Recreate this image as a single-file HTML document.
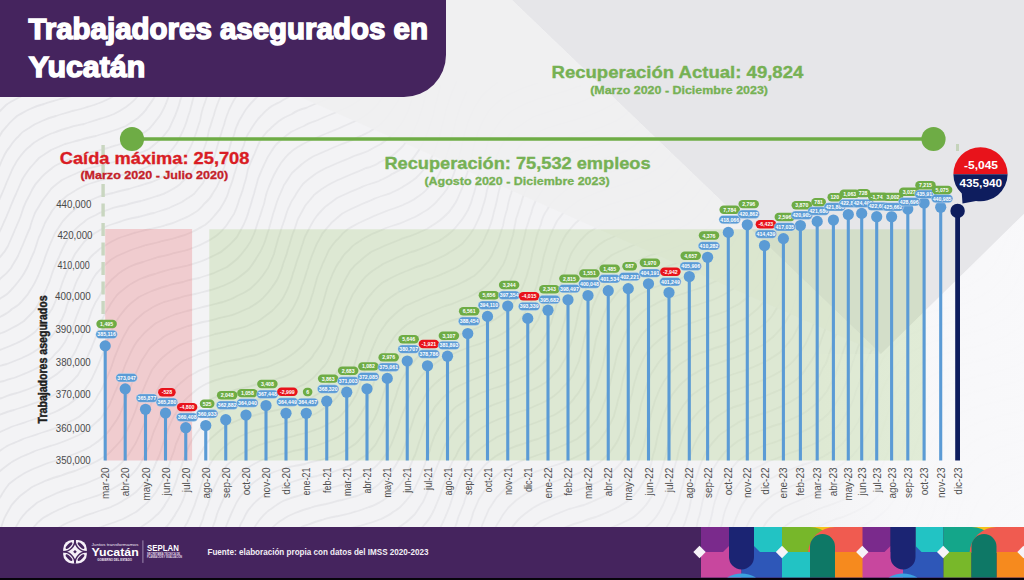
<!DOCTYPE html>
<html><head><meta charset="utf-8">
<style>
html,body{margin:0;padding:0;}
body{width:1024px;height:580px;overflow:hidden;position:relative;background:#e8e8eb;font-family:"Liberation Sans",sans-serif;}
svg{position:absolute;left:0;top:0;}
.pt{font-family:"Liberation Sans",sans-serif;font-size:5.2px;font-weight:bold;fill:#fff;text-anchor:middle;}
.xl{font-family:"Liberation Sans",sans-serif;font-size:10.1px;fill:#505050;}
.yl{font-family:"Liberation Sans",sans-serif;font-size:10.2px;fill:#4a4a4a;}
#hdr{position:absolute;left:0;top:0;width:446px;height:97px;background:#45245e;border-bottom-right-radius:42px;}
.t{position:absolute;white-space:nowrap;font-weight:bold;}
.ti{font-family:"Liberation Sans",sans-serif;font-weight:bold;font-size:29.4px;fill:#fff;stroke:#fff;stroke-width:1.5px;}
.hd{font-family:"Liberation Sans",sans-serif;font-weight:bold;font-size:17px;}
.sh{font-family:"Liberation Sans",sans-serif;font-weight:bold;font-size:11.3px;}
</style></head><body>
<svg width="1024" height="580" viewBox="0 0 1024 580">
  <defs><clipPath id="lt"><polygon points="0,0 512,0 881,354 1024,214 1024,527 0,527"/></clipPath></defs>
  <rect x="0" y="0" width="1024" height="527" fill="#e6e6e9"/>
  <polygon points="0,0 512,0 881,354 1024,214 1024,527 0,527" fill="#f3f3f5"/>
  <defs><linearGradient id="mg" x1="0" y1="0" x2="1024" y2="0" gradientUnits="userSpaceOnUse"><stop offset="0" stop-color="#fff" stop-opacity="0.6"/><stop offset="0.35" stop-color="#fff" stop-opacity="0.5"/><stop offset="1" stop-color="#fff" stop-opacity="0.25"/></linearGradient>
  <mask id="mk" maskUnits="userSpaceOnUse" x="0" y="0" width="1024" height="580"><rect x="0" y="0" width="1024" height="580" fill="url(#mg)"/></mask></defs>
  <filter id="bl" x="0" y="0" width="1024" height="580" filterUnits="userSpaceOnUse"><feGaussianBlur stdDeviation="0.6"/></filter>
  <g clip-path="url(#lt)"><g mask="url(#mk)"><g filter="url(#bl)"><path d="M-37 121C-36 119 -34 112 -31 107C-29 103 -27 98 -24 94C-22 90 -17 85 -15 84 M-39 159C-38 157 -35 150 -33 145C-31 140 -30 135 -28 131C-26 126 -24 121 -22 117C-19 113 -17 109 -14 105C-11 101 -8 97 -5 94C-1 91 5 87 7 86 M-36 182C-35 180 -31 174 -29 169C-27 164 -25 160 -23 155C-22 150 -20 145 -18 141C-16 136 -14 131 -11 127C-9 123 -7 119 -4 115C-1 112 3 108 6 105C10 102 14 100 18 98C23 95 27 93 32 92C37 90 42 89 47 87C53 86 60 84 63 83 M-33 204C-32 202 -28 197 -25 192C-23 188 -21 183 -19 179C-17 174 -16 169 -14 165C-12 160 -10 155 -8 150C-6 146 -4 141 -1 137C1 133 4 129 7 126C10 122 14 119 17 116C21 114 25 111 30 109C34 107 39 105 44 104C49 102 54 101 60 99C65 98 70 97 75 95C80 94 85 92 90 90C95 88 101 85 104 84 M-32 225C-31 224 -26 219 -23 215C-20 211 -18 207 -15 202C-13 198 -11 193 -9 189C-7 184 -6 179 -4 174C-2 170 -0 165 2 160C4 156 6 151 9 148C12 144 14 140 18 137C21 133 25 130 29 128C33 125 37 123 42 121C46 119 51 117 56 116C61 114 67 113 72 111C77 110 82 109 87 107C92 106 97 104 102 102C107 100 111 98 115 95C119 93 124 88 126 86 M-32 245C-30 244 -25 239 -21 236C-18 233 -15 229 -12 225C-10 221 -8 217 -5 212C-3 208 -2 203 0 198C2 194 4 189 6 184C8 179 10 175 12 170C14 166 16 162 19 158C22 154 25 150 29 147C32 144 36 141 40 139C44 137 49 134 53 133C58 131 63 129 68 128C73 126 79 125 84 124C89 122 94 121 99 119C104 118 109 116 114 114C118 112 123 109 126 107C130 104 134 101 137 97C140 94 143 87 145 85 M-33 264C-31 262 -25 259 -21 256C-17 253 -14 250 -11 247C-7 243 -5 239 -2 235C0 231 2 227 4 222C6 218 8 213 10 208C12 203 14 198 16 194C18 189 20 185 22 180C24 176 27 172 30 168C33 165 36 161 39 158C43 155 47 153 51 150C56 148 60 146 65 144C70 143 75 141 80 140C86 138 91 137 96 136C101 134 107 133 112 131C116 130 121 128 126 126C130 123 134 121 138 118C141 115 145 112 147 108C150 104 153 100 155 96C157 91 160 84 161 81 M-35 281C-33 280 -26 278 -22 275C-17 273 -13 270 -10 267C-6 264 -3 261 0 257C3 254 6 250 8 246C10 241 12 237 14 232C16 227 18 223 20 218C22 213 23 208 25 204C27 199 30 195 32 190C34 186 37 182 40 179C43 175 47 172 51 169C54 166 58 164 63 162C67 160 72 158 77 156C82 155 87 153 93 152C98 151 103 149 108 148C113 146 119 145 123 143C128 141 133 140 137 137C141 135 145 132 149 129C152 126 155 122 158 118C161 115 163 110 165 106C167 101 170 94 170 91 M-38 298C-36 297 -28 295 -24 293C-19 291 -14 289 -10 287C-6 284 -2 282 1 278C5 275 8 272 11 268C13 264 16 260 18 256C20 251 22 247 24 242C26 237 28 232 30 228C31 223 33 218 35 213C37 209 40 205 42 201C45 197 48 193 51 189C54 186 58 183 62 180C66 178 70 176 75 174C79 172 84 170 89 168C94 167 100 166 105 164C110 163 115 162 121 160C126 159 131 157 135 155C140 153 145 151 149 149C153 146 156 143 160 140C163 137 166 133 169 129C171 125 173 120 175 116C177 111 179 106 180 101C182 96 184 88 184 85 M-26 310C-24 310 -16 307 -12 305C-7 303 -3 301 1 298C5 296 9 293 12 289C15 286 18 282 21 278C24 274 26 270 28 266C30 261 32 256 34 252C36 247 37 242 39 237C41 233 43 228 45 223C47 219 50 215 52 211C55 207 58 203 62 200C65 197 69 194 73 192C77 189 82 187 86 185C91 183 96 182 101 180C106 179 112 178 117 176C122 175 128 174 133 172C138 171 143 169 147 167C152 165 156 163 160 160C164 157 168 154 171 151C174 147 177 144 179 139C181 135 183 131 185 126C187 121 188 116 190 111C191 106 193 100 194 95C196 90 198 83 199 80 M-29 327C-27 326 -19 324 -14 322C-9 321 -4 319 0 317C4 315 9 312 12 309C16 307 20 304 23 300C26 297 29 293 31 289C34 285 36 280 38 276C40 271 42 266 44 261C45 257 47 252 49 247C51 242 53 238 55 233C58 229 60 225 63 221C66 218 69 214 73 211C76 208 80 205 84 203C89 201 93 199 98 197C103 195 108 194 113 193C119 191 124 190 129 189C134 187 140 186 145 184C150 183 155 181 159 179C163 177 168 174 171 171C175 168 178 165 181 162C184 158 187 154 189 150C192 145 193 141 195 136C197 131 198 126 200 121C201 115 202 110 204 105C206 100 208 93 209 90 M-32 344C-30 343 -22 341 -17 339C-12 338 -7 336 -2 334C3 333 7 331 12 328C16 326 20 324 24 321C27 318 31 314 34 311C37 307 39 303 41 299C44 295 46 290 48 285C50 281 51 276 53 271C55 266 57 261 59 257C61 252 63 248 65 244C68 239 70 235 73 232C76 228 80 225 84 222C87 219 91 217 96 215C100 212 105 211 110 209C115 207 120 206 126 205C131 203 136 202 141 201C147 199 152 198 157 196C162 195 166 193 171 190C175 188 179 186 182 182C186 179 189 176 192 172C195 168 197 164 199 160C202 155 203 151 205 146C207 141 208 135 209 130C211 125 212 120 214 115C215 110 217 105 219 100C221 95 224 89 225 87 M-35 361C-32 360 -25 358 -20 356C-15 355 -10 353 -5 352C0 350 5 348 10 346C15 344 19 342 23 340C27 338 31 335 35 332C38 329 41 325 44 321C47 317 49 313 52 309C54 305 56 300 58 295C60 291 61 286 63 281C65 276 67 271 69 267C71 262 73 258 75 254C78 250 81 246 84 242C87 239 91 236 95 233C99 231 103 228 107 226C112 224 117 223 122 221C127 219 132 218 138 217C143 216 148 214 154 213C159 211 164 210 169 208C173 206 178 204 182 202C186 199 190 197 194 194C197 190 200 187 203 183C205 179 207 174 210 170C212 165 213 160 215 155C216 150 218 145 219 140C221 135 222 130 224 125C225 120 227 115 229 110C231 106 233 101 236 97C239 94 244 89 245 87 M-36 379C-34 378 -27 375 -23 373C-18 372 -13 370 -8 368C-3 367 2 365 7 364C12 362 17 360 22 358C26 356 31 354 35 351C39 349 42 346 46 343C49 339 52 336 55 332C57 328 59 323 62 319C64 315 66 310 67 305C69 300 71 295 73 291C75 286 76 281 79 277C81 272 83 268 86 264C88 260 91 256 95 253C98 250 102 247 106 245C110 242 115 240 119 238C124 236 129 235 134 233C139 232 145 230 150 229C155 228 161 227 166 225C171 224 176 222 180 220C185 218 190 216 194 213C198 211 201 208 204 204C208 201 211 197 213 193C216 189 218 185 220 180C221 175 223 170 225 165C226 160 227 155 229 150C230 145 232 139 234 135C235 130 237 125 239 121C242 116 244 112 247 108C250 104 253 101 256 98C260 95 264 92 268 90C272 87 279 84 281 83 M-37 399C-35 397 -29 393 -25 391C-20 389 -15 387 -11 385C-6 384 -1 382 4 381C9 379 15 378 19 376C24 374 29 372 33 370C38 368 42 365 46 363C50 360 53 357 56 353C60 350 62 346 65 342C67 338 69 333 72 329C74 324 75 320 77 315C79 310 81 305 83 300C84 296 86 291 89 287C91 282 93 278 96 274C99 271 102 267 106 264C109 261 113 258 117 256C122 254 126 252 131 250C136 248 141 247 146 245C151 244 157 243 162 241C167 240 173 239 178 237C183 236 188 234 192 232C197 230 201 227 205 225C209 222 212 219 215 215C218 212 221 208 223 204C226 199 228 195 229 190C231 185 233 180 234 175C236 170 237 165 239 159C240 154 242 149 244 145C245 140 247 135 250 131C252 127 255 123 258 119C261 116 264 112 268 109C271 106 276 104 280 102C284 99 289 97 293 95C298 93 303 92 308 90C312 88 319 85 322 84 M-36 419C-35 418 -29 413 -26 410C-22 407 -17 405 -13 403C-8 401 -3 399 2 398C6 396 12 394 17 393C22 391 27 390 31 388C36 386 41 384 45 382C49 379 53 377 57 374C61 371 64 368 67 364C70 360 73 356 75 352C77 348 79 343 81 339C83 334 85 329 87 324C89 320 90 315 92 310C94 305 96 301 99 297C101 292 104 288 107 285C110 281 113 278 117 275C120 272 124 270 129 267C133 265 138 263 143 262C148 260 153 259 158 257C164 256 169 255 174 253C179 252 185 251 190 249C195 247 199 246 204 243C208 241 212 239 216 236C220 233 223 230 226 226C229 222 231 218 234 214C236 209 238 205 239 200C241 195 243 190 244 185C246 180 247 174 248 169C250 164 252 159 254 155C256 150 258 145 260 141C263 137 265 133 269 130C272 127 275 124 279 121C283 118 287 116 292 114C296 111 301 109 306 108C310 106 315 104 320 102C325 100 329 98 334 96C338 94 343 92 347 89C350 86 356 82 357 80 M-34 441C-33 439 -29 433 -25 430C-22 427 -18 424 -14 422C-10 419 -5 417 -1 415C4 413 9 411 14 410C19 408 24 407 29 405C34 403 39 402 43 400C48 398 53 396 57 393C61 391 65 388 68 385C72 382 75 378 78 375C80 371 83 367 85 362C87 358 89 353 91 349C93 344 95 339 97 334C98 329 100 325 102 320C104 315 106 311 109 307C111 303 114 299 117 295C120 292 124 289 128 286C132 283 136 281 140 279C145 277 150 275 155 274C160 272 165 271 171 269C176 268 181 267 186 266C192 264 197 263 202 261C207 259 211 257 215 255C220 253 224 250 227 247C231 244 234 240 237 237C239 233 242 228 244 224C246 219 248 215 249 210C251 205 252 199 254 194C255 189 257 184 258 179C260 174 262 169 264 165C266 160 268 156 271 152C273 148 276 144 280 141C283 138 287 135 291 132C295 130 299 128 304 126C308 123 313 122 318 120C322 118 327 116 332 114C337 112 341 110 346 108C350 106 354 104 358 101C362 98 367 93 369 91 M-36 479C-35 476 -33 469 -31 464C-29 460 -26 455 -24 452C-21 448 -18 444 -14 441C-10 438 -7 436 -2 433C2 431 7 429 11 427C16 425 21 424 26 422C31 420 36 419 41 417C46 415 51 414 55 412C60 410 64 407 68 405C72 402 76 399 79 396C83 393 85 389 88 385C91 381 93 377 95 372C97 368 99 363 101 358C103 354 105 349 106 344C108 339 110 334 112 330C114 325 116 321 119 317C122 313 125 309 128 306C131 303 135 300 139 297C143 295 147 293 152 291C157 289 162 287 167 286C172 284 177 283 183 282C188 280 193 279 199 278C204 276 209 275 214 273C218 271 223 269 227 267C231 264 235 261 238 258C241 255 244 251 247 247C250 243 252 239 254 234C256 229 257 224 259 219C261 214 262 209 264 204C265 199 266 194 268 189C270 184 272 179 274 175C276 171 279 166 281 163C284 159 287 155 291 152C294 149 298 147 303 144C307 142 311 140 316 138C320 136 325 134 330 132C335 130 340 128 344 126C349 124 353 122 358 120C362 118 366 115 370 112C373 109 377 106 379 102C382 99 386 92 387 90 M-38 536C-38 533 -35 526 -34 520C-33 515 -32 509 -30 504C-29 499 -28 494 -26 489C-24 484 -23 479 -20 475C-18 470 -16 466 -13 462C-10 459 -6 456 -3 453C1 450 5 447 9 445C14 443 19 441 23 439C28 437 33 436 38 434C43 432 48 431 53 429C58 427 63 426 67 423C71 421 76 419 80 416C83 413 87 410 90 407C93 403 96 400 98 395C101 391 103 387 105 382C107 378 109 373 111 368C113 363 114 358 116 354C118 349 120 344 122 340C124 335 127 331 129 327C132 324 135 320 139 317C142 314 146 311 150 309C154 306 159 304 164 302C169 301 174 299 179 298C184 296 190 295 195 294C200 293 206 291 211 290C216 288 221 287 225 285C230 283 234 281 238 278C242 275 246 272 249 269C252 265 255 261 257 257C260 253 262 249 264 244C266 239 267 234 269 229C270 224 272 219 273 214C275 209 276 204 278 199C280 194 282 190 284 185C287 181 289 177 292 173C295 170 299 167 302 164C306 161 310 158 314 156C319 154 323 152 328 150C332 148 337 146 342 144C347 142 352 141 356 138C361 136 365 134 369 132C374 129 377 127 381 124C384 120 388 117 390 113C393 109 395 105 398 101C400 96 402 89 403 86 M-33 561C-32 558 -30 551 -28 546C-27 541 -26 535 -24 530C-23 525 -22 519 -21 514C-19 509 -18 504 -16 499C-14 494 -12 489 -10 485C-8 481 -5 477 -2 473C1 470 5 467 9 464C13 461 17 459 21 457C26 455 31 453 35 451C40 449 45 448 50 446C55 445 60 443 65 441C70 439 74 437 79 435C83 433 87 430 91 427C94 424 98 421 101 418C104 414 106 410 109 406C111 402 113 397 115 392C117 388 119 383 121 378C122 373 124 368 126 363C128 359 130 354 132 350C134 346 137 341 140 338C143 334 146 331 150 328C153 325 157 322 162 320C166 318 171 316 176 314C181 313 186 311 191 310C196 309 202 307 207 306C212 305 218 303 223 302C228 300 233 299 237 296C242 294 246 292 250 289C253 286 257 283 260 279C263 276 265 272 268 268C270 263 272 259 274 254C275 249 277 244 278 239C280 234 281 229 283 224C285 219 286 214 288 209C290 204 292 200 295 196C297 192 300 188 303 184C306 181 310 178 314 175C318 172 322 170 326 168C331 166 335 164 340 162C345 160 350 158 354 156C359 154 364 153 368 151C373 148 377 146 381 144C385 141 389 138 392 135C395 132 398 128 401 124C404 120 406 115 408 111C410 106 411 101 413 96C415 91 416 83 417 81 M-18 556C-18 553 -16 545 -15 540C-13 534 -12 529 -11 524C-9 519 -8 514 -6 509C-4 504 -2 500 1 496C3 492 6 488 9 484C13 481 16 478 20 476C24 473 29 471 33 469C38 467 43 465 48 463C52 462 58 460 63 458C67 457 72 455 77 453C82 451 86 449 90 447C94 444 98 442 102 438C105 435 109 432 111 428C114 424 117 420 119 416C121 412 123 407 125 402C127 397 128 392 130 388C132 383 134 378 136 373C138 369 140 364 142 360C145 356 147 352 150 348C153 345 157 342 161 339C164 336 169 334 173 332C178 329 183 328 188 326C193 325 198 323 203 322C209 321 214 320 219 318C224 317 230 316 235 314C240 312 244 310 249 308C253 306 257 303 261 300C264 297 267 294 270 290C273 286 276 282 278 278C280 273 282 269 283 264C285 259 287 254 288 249C290 244 291 238 293 233C295 229 296 224 298 219C300 215 303 210 305 206C308 202 311 199 314 195C318 192 321 189 325 187C329 184 334 182 338 180C343 178 347 176 352 174C357 172 362 170 366 168C371 167 376 165 380 162C385 160 389 158 393 155C397 152 400 149 403 146C406 142 409 139 412 134C414 130 416 126 418 121C420 116 421 111 423 106C424 101 426 93 427 90 M-9 566C-8 563 -6 555 -5 549C-4 544 -2 539 -1 534C1 529 2 524 4 519C6 514 9 510 11 506C14 502 17 499 20 496C24 493 28 490 32 487C36 485 41 483 45 481C50 479 55 477 60 476C65 474 70 472 75 471C80 469 84 467 89 465C93 463 98 461 102 458C106 456 110 453 113 449C116 446 119 443 122 439C125 435 127 430 129 426C131 422 133 417 135 412C137 407 138 402 140 397C142 393 144 388 146 383C148 379 150 374 152 370C155 366 158 362 161 359C164 356 168 353 172 350C176 347 180 345 185 343C189 341 195 340 200 338C205 337 210 336 215 334C221 333 226 332 231 330C237 329 242 328 247 326C251 324 256 322 260 320C264 317 268 314 272 311C275 308 278 305 281 301C284 297 286 292 288 288C290 283 292 278 293 273C295 269 296 263 298 258C300 253 301 248 303 243C304 238 306 234 309 229C311 225 313 221 316 217C319 213 322 210 325 207C329 204 333 201 337 198C341 196 346 194 350 192C355 190 360 188 364 186C369 184 374 183 379 181C383 179 388 177 392 174C396 172 401 170 404 167C408 164 411 161 414 157C417 153 420 149 422 145C424 141 426 136 428 131C430 126 431 121 433 116C434 111 435 105 437 100C438 95 440 87 441 85 M5 559C6 557 7 549 9 544C11 539 12 534 15 529C17 525 19 521 22 517C25 513 28 510 32 507C35 504 39 501 44 499C48 497 53 495 57 493C62 491 67 489 72 488C77 486 82 485 87 483C92 481 96 479 101 477C105 475 109 472 113 470C117 467 121 464 124 460C127 457 130 453 132 449C135 445 137 441 139 436C141 431 143 427 145 422C146 417 148 412 150 407C152 402 153 398 156 393C158 389 160 384 163 380C165 377 168 373 172 370C175 367 179 364 183 361C187 359 192 357 197 355C201 353 207 352 212 350C217 349 222 348 228 346C233 345 238 344 243 342C249 341 254 340 258 338C263 336 268 334 272 331C276 328 279 325 283 322C286 319 289 315 291 311C294 307 296 302 298 298C300 293 301 288 303 283C305 278 306 273 308 268C309 263 311 258 313 253C315 249 316 244 319 240C321 235 324 231 327 228C330 224 333 221 337 218C340 215 344 212 349 210C353 208 358 206 362 204C367 202 372 200 376 198C381 196 386 195 391 193C395 191 400 189 404 186C408 184 412 181 416 178C419 175 422 172 425 168C428 164 430 160 433 155C435 151 436 146 438 141C440 136 441 131 442 126C444 120 445 115 446 110C448 105 449 99 451 95C453 90 456 83 457 81 M15 569C15 566 17 558 19 554C21 549 23 544 25 540C27 535 30 531 33 528C36 524 39 521 43 518C47 516 51 513 56 511C60 509 65 507 69 505C74 503 79 502 84 500C89 498 94 497 99 495C104 493 108 491 112 489C117 486 121 484 125 481C128 478 132 475 135 471C138 468 140 464 143 459C145 455 147 451 149 446C151 441 152 436 154 431C156 427 158 422 160 417C161 412 163 407 166 403C168 399 170 395 173 391C176 387 179 384 183 381C186 378 190 375 195 373C199 370 204 369 208 367C213 365 219 364 224 362C229 361 235 360 240 359C245 357 250 356 256 355C261 353 266 351 270 349C275 347 279 345 283 342C287 339 290 336 293 333C296 329 299 325 301 321C304 317 306 312 308 308C310 303 311 298 313 293C314 288 316 283 317 278C319 273 321 268 323 263C325 259 327 254 329 250C332 246 334 242 338 239C341 235 344 232 348 229C352 227 356 224 361 222C365 220 370 218 374 216C379 214 384 212 389 210C393 209 398 207 403 205C407 203 412 201 416 198C420 195 424 193 427 189C430 186 433 183 436 179C439 175 441 170 443 166C445 161 446 156 448 151C450 146 451 141 452 135C454 130 455 125 456 120C458 114 459 109 461 105C463 100 466 93 467 91 M29 564C30 561 33 554 35 550C38 546 41 542 44 539C47 536 51 533 55 530C59 527 63 525 67 523C72 521 77 519 82 517C86 515 91 514 96 512C101 510 106 509 111 507C115 505 120 503 124 500C128 498 132 495 136 492C139 489 142 486 145 482C148 478 150 474 153 470C155 465 157 460 159 456C161 451 162 446 164 441C166 436 167 431 169 427C171 422 173 417 176 413C178 409 181 405 184 401C187 398 190 395 194 392C197 389 202 386 206 384C211 382 215 380 220 379C225 377 231 376 236 375C241 373 247 372 252 371C257 369 263 368 268 367C273 365 277 363 282 361C286 359 290 356 294 353C298 350 301 347 304 344C307 340 309 336 312 331C314 327 316 322 318 318C319 313 321 308 323 303C324 298 326 293 327 288C329 283 331 278 333 273C335 269 337 264 340 261C342 257 345 253 349 250C352 246 356 243 360 241C364 238 368 236 372 234C377 232 382 230 386 228C391 226 396 225 401 223C406 221 410 219 415 217C419 215 423 212 427 210C431 207 435 204 438 200C441 197 444 193 447 189C449 185 451 181 453 176C455 171 456 166 458 161C459 156 461 150 462 145C463 140 464 134 466 129C467 124 469 119 471 115C473 110 475 106 478 102C480 98 483 94 487 91C490 88 496 84 498 82 M46 561C48 559 52 553 55 550C58 547 62 544 66 541C70 539 75 537 79 535C84 533 89 531 94 529C99 528 104 526 109 524C113 523 118 521 123 519C127 517 132 514 136 512C140 509 143 506 147 503C150 500 153 496 156 492C158 488 161 484 163 480C165 475 167 470 169 466C170 461 172 456 174 451C175 446 177 441 179 437C181 432 183 427 186 423C188 419 191 415 194 412C197 409 201 406 205 403C209 400 213 398 218 396C222 394 227 392 232 391C237 389 243 388 248 387C253 385 259 384 264 383C269 382 275 380 279 378C284 377 289 375 293 372C298 370 302 368 305 364C309 361 312 358 314 354C317 350 320 346 322 342C324 337 326 332 327 327C329 323 331 317 332 312C334 307 335 302 337 298C339 293 341 288 343 284C345 279 348 275 350 271C353 267 356 264 360 261C363 258 367 255 371 252C375 250 380 248 384 246C389 244 394 242 399 240C403 238 408 237 413 235C418 233 422 231 427 229C431 226 435 224 439 221C443 218 446 215 449 212C452 208 455 204 457 200C459 195 461 191 463 186C465 181 466 176 468 171C469 166 470 160 472 155C473 150 474 144 476 139C477 134 479 129 481 125C483 120 486 116 488 112C491 108 494 105 498 102C501 99 505 96 510 94C514 92 519 90 523 88C528 86 536 84 538 83 M66 561C68 560 74 556 78 553C82 551 87 549 91 547C96 545 101 543 106 542C111 540 116 538 121 536C125 535 130 533 135 531C139 528 143 526 147 523C151 521 154 517 158 514C161 511 164 507 166 503C169 499 171 494 173 490C175 485 177 480 178 475C180 471 182 465 183 461C185 456 187 451 189 446C191 442 193 438 196 434C199 430 202 426 205 423C208 419 212 417 216 414C220 412 225 409 229 408C234 406 239 404 244 403C250 401 255 400 260 399C266 398 271 396 276 395C281 394 287 392 291 390C296 388 301 386 305 384C309 381 313 379 316 375C319 372 322 368 325 365C328 361 330 356 332 352C334 347 336 342 337 337C339 332 340 327 342 322C344 317 345 312 347 307C349 303 351 298 353 294C356 290 358 286 361 282C364 278 367 275 371 272C375 269 379 267 383 264C387 262 392 260 396 258C401 256 406 254 411 252C416 251 420 249 425 247C430 245 434 243 439 241C443 238 447 236 450 233C454 230 457 226 460 222C463 219 465 215 468 210C470 206 472 201 473 196C475 191 476 186 477 180C479 175 480 170 481 165C483 159 484 154 486 149C487 144 489 139 491 135C494 131 496 127 499 123C502 119 505 116 509 113C513 110 517 108 521 106C526 103 531 102 535 100C540 98 546 97 551 95C556 94 561 92 566 91C571 89 578 86 581 86 M90 565C92 564 99 561 104 559C108 557 113 555 118 554C123 552 128 550 133 548C137 547 142 545 146 542C151 540 155 538 158 535C162 532 165 528 168 525C171 521 174 517 176 513C179 509 181 504 183 500C185 495 186 490 188 485C190 480 191 475 193 470C195 466 197 461 199 456C201 452 204 448 206 444C209 440 212 437 216 434C219 431 223 428 227 425C232 423 236 421 241 419C246 418 251 416 256 415C262 413 267 412 272 411C278 410 283 409 288 407C293 406 298 404 303 402C308 400 312 398 316 395C320 393 324 390 327 386C330 383 333 379 335 375C338 371 340 366 342 362C344 357 345 352 347 347C349 342 350 337 352 332C353 327 355 322 357 317C359 313 361 308 364 304C366 300 369 296 372 293C375 289 379 286 382 283C386 281 390 278 395 276C399 274 404 272 409 270C413 268 418 266 423 265C428 263 433 261 437 259C442 257 446 255 450 252C454 250 458 247 462 244C465 241 468 237 471 233C474 229 476 225 478 220C480 216 482 211 483 206C485 201 486 196 487 190C489 185 490 180 491 174C493 169 494 164 496 159C497 154 499 150 502 145C504 141 507 137 510 134C513 130 517 127 521 125C524 122 529 120 533 117C538 115 543 114 548 112C552 110 558 109 563 107C568 106 573 105 578 103C583 101 588 99 592 97C597 95 601 93 605 90C609 88 614 83 616 81 M130 566C133 565 140 562 145 561C149 559 154 556 158 554C162 552 166 549 170 546C173 543 176 539 179 536C182 532 184 528 187 523C189 519 191 514 193 509C195 505 196 500 198 495C200 490 201 485 203 480C205 475 207 471 209 466C211 462 214 458 217 454C220 451 223 447 227 445C230 442 235 439 239 437C243 435 248 433 253 431C258 430 263 428 269 427C274 426 279 425 285 423C290 422 295 421 300 419C305 418 310 416 315 414C319 412 323 409 327 406C331 404 334 400 337 397C340 393 343 389 345 385C348 381 350 376 352 371C354 367 355 362 357 357C358 352 360 347 362 342C363 337 365 332 367 327C369 323 371 319 374 315C377 311 380 307 383 304C386 300 390 298 394 295C398 292 402 290 407 288C411 286 416 284 421 282C425 280 430 279 435 277C440 275 445 273 449 271C454 269 458 267 462 264C466 261 470 258 473 255C476 252 479 248 482 244C484 240 486 235 488 231C490 226 492 221 493 216C494 211 496 205 497 200C498 195 499 189 501 184C502 179 504 174 506 169C508 164 510 160 512 156C515 152 518 148 521 145C524 141 528 139 532 136C536 133 540 131 545 129C550 127 555 126 560 124C565 123 570 121 575 120C580 118 585 117 590 115C595 113 600 111 604 109C608 107 613 104 616 102C620 99 623 95 626 92C629 88 633 82 635 80 M170 566C171 564 177 560 181 557C184 554 187 550 190 546C192 542 195 538 197 533C199 529 201 524 203 519C204 514 206 509 208 505C209 500 211 495 213 490C215 485 217 481 219 477C222 472 224 469 227 465C231 462 234 458 238 456C242 453 246 451 251 449C255 446 260 445 265 443C270 442 275 440 281 439C286 438 292 437 297 435C302 434 307 433 312 431C317 429 322 428 326 425C331 423 335 420 338 418C342 415 345 411 348 407C351 404 353 400 356 395C358 391 360 386 361 381C363 376 365 371 366 366C368 361 370 356 371 352C373 347 375 342 377 338C379 333 382 329 385 325C387 321 391 318 394 315C397 312 401 309 405 306C410 304 414 302 419 300C423 298 428 296 433 294C438 292 443 291 447 289C452 287 457 285 461 283C466 281 470 278 474 276C477 273 481 270 484 266C487 263 490 259 492 255C494 250 496 246 498 241C500 236 501 231 503 226C504 220 505 215 507 210C508 204 509 199 511 194C512 189 514 184 516 179C518 175 520 170 523 166C526 163 529 159 532 156C536 153 539 150 544 148C548 145 552 143 557 141C562 139 567 138 572 136C577 135 582 133 587 132C592 130 597 129 602 127C607 125 611 123 616 121C620 118 624 116 627 113C631 110 634 106 637 102C640 99 643 92 645 90 M192 568C193 566 198 561 200 557C203 552 205 548 207 543C209 539 211 534 212 529C214 524 216 519 217 514C219 509 221 504 223 500C225 495 227 491 229 487C232 483 235 479 238 476C241 472 245 469 249 467C253 464 258 462 262 460C267 458 272 457 277 455C282 454 288 453 293 451C298 450 304 449 309 448C314 446 319 445 324 443C329 441 334 439 338 437C342 434 346 432 349 428C353 425 356 422 358 418C361 414 363 410 366 405C368 401 369 396 371 391C373 386 374 381 376 376C378 371 379 366 381 361C383 357 385 352 387 348C390 344 392 340 395 336C398 332 402 329 405 326C409 323 413 321 417 318C421 316 426 314 431 312C435 310 440 308 445 306C450 305 455 303 459 301C464 299 469 297 473 295C477 293 481 290 485 287C489 284 492 281 495 277C498 273 500 269 503 265C505 261 507 256 508 251C510 246 511 241 513 235C514 230 515 225 516 219C518 214 519 209 521 204C522 199 524 194 526 190C528 185 531 181 534 177C536 173 540 170 543 167C547 164 551 162 555 159C560 157 564 155 569 153C574 152 579 150 584 148C589 147 594 146 599 144C604 142 609 141 614 139C619 137 623 135 627 132C631 130 635 127 638 124C642 120 645 117 647 113C650 109 653 105 655 100C657 96 660 89 661 87 M211 567C212 565 215 558 217 553C219 549 220 544 222 539C224 534 225 529 227 524C229 519 231 514 233 510C235 505 237 501 240 497C243 493 246 490 249 487C252 483 256 481 260 478C265 476 269 474 274 472C279 470 284 469 289 467C294 466 300 465 305 464C310 462 316 461 321 460C326 458 331 457 336 455C341 453 345 451 349 448C353 446 357 443 360 439C363 436 366 432 369 428C371 424 374 420 376 415C378 411 379 406 381 401C383 396 384 391 386 386C388 381 389 376 391 371C393 367 395 362 398 358C400 354 403 350 406 347C409 343 413 340 417 337C420 335 425 332 429 330C433 328 438 326 443 324C447 322 452 320 457 319C462 317 467 315 472 313C476 311 481 309 485 307C489 304 493 301 496 298C500 295 503 292 506 288C508 284 511 280 513 275C515 271 517 266 518 261C520 256 521 250 522 245C524 240 525 234 526 229C528 224 529 219 531 214C532 209 534 204 536 200C539 196 541 192 544 188C547 184 551 181 555 178C558 176 563 173 567 171C571 169 576 167 581 165C586 164 591 162 596 161C601 159 606 158 611 156C616 154 621 153 626 151C630 148 635 146 638 143C642 141 646 138 649 134C652 131 655 127 658 123C660 119 663 115 665 110C667 106 669 101 670 96C672 92 675 84 676 82 M227 563C228 561 230 554 232 549C233 544 235 539 237 534C239 529 240 524 243 520C245 516 247 511 250 508C253 504 256 501 260 498C264 495 268 492 272 490C276 487 281 486 286 484C291 482 296 481 301 479C307 478 312 477 317 476C323 474 328 473 333 472C338 470 343 469 348 466C352 464 357 462 360 459C364 457 368 454 371 450C374 447 377 443 379 438C382 434 384 430 385 425C387 420 389 415 391 411C392 406 394 401 396 396C397 391 399 386 401 381C403 377 406 373 408 369C411 365 414 361 417 358C420 354 424 351 428 349C432 346 436 344 441 342C445 340 450 338 455 336C460 334 465 333 469 331C474 329 479 327 484 325C488 323 493 321 497 318C501 316 504 313 508 310C511 306 514 303 516 299C519 295 521 290 523 286C525 281 527 276 528 271C530 266 531 260 532 255C533 250 535 244 536 239C537 234 539 229 541 224C542 219 544 214 547 210C549 206 552 202 555 199C559 196 562 193 566 190C570 187 574 185 579 183C583 181 588 179 593 178C598 176 603 174 608 173C613 171 619 170 623 168C628 166 633 164 637 162C642 160 646 158 650 155C653 152 657 149 660 145C663 142 666 138 668 134C671 129 673 125 675 120C677 116 678 111 680 106C682 101 685 94 686 92 M242 558C242 556 245 548 247 544C249 539 250 534 253 530C255 526 258 522 261 518C264 515 267 511 271 509C275 506 279 503 283 501C288 499 293 497 298 496C303 494 308 493 313 492C319 490 324 489 330 488C335 487 340 485 345 484C350 482 355 480 359 478C364 476 368 473 371 470C375 468 378 464 381 461C384 457 387 453 389 449C392 444 393 440 395 435C397 430 399 425 400 420C402 415 404 410 406 406C407 401 409 396 411 392C414 387 416 383 419 379C422 375 425 372 428 369C432 366 435 363 440 360C444 358 448 356 453 354C457 352 462 350 467 348C472 346 477 345 482 343C486 341 491 339 496 337C500 335 504 333 508 330C512 327 516 324 519 321C522 317 525 313 527 309C530 305 532 301 533 296C535 291 537 286 538 281C539 275 541 270 542 265C543 259 544 254 546 249C547 244 549 239 551 234C553 229 555 225 557 221C560 217 563 213 566 210C570 207 574 204 578 201C582 199 586 197 591 195C595 193 600 191 605 190C610 188 616 187 621 185C626 183 631 182 635 180C640 178 645 176 649 174C653 171 657 169 661 166C664 163 668 159 670 156C673 152 676 148 678 144C681 139 683 135 684 130C686 125 688 121 690 116C692 111 694 106 696 102C698 97 701 91 702 88 M251 568C252 566 255 558 257 554C258 549 261 544 263 540C266 536 268 532 271 529C275 525 278 522 282 520C286 517 290 515 295 513C300 511 305 509 310 508C315 506 320 505 326 504C331 503 336 501 342 500C347 499 352 497 357 496C362 494 367 492 371 490C375 487 379 485 382 481C386 478 389 475 392 471C395 467 397 463 399 459C402 454 403 450 405 445C407 440 408 435 410 430C412 425 413 420 415 415C417 411 419 406 422 402C424 398 426 393 429 390C432 386 436 383 439 380C443 377 447 374 451 372C455 370 460 368 465 366C469 364 474 362 479 360C484 359 489 357 494 355C498 353 503 351 507 349C512 347 516 344 520 341C523 339 527 335 530 332C533 328 535 324 538 320C540 315 542 311 543 306C545 301 546 296 548 290C549 285 550 280 552 274C553 269 554 264 556 259C557 254 559 249 561 244C563 240 565 235 568 232C571 228 574 224 578 221C581 218 585 215 589 213C593 211 598 209 603 207C608 205 613 203 618 202C623 200 628 199 633 197C638 196 643 194 647 192C652 190 656 188 660 185C665 183 668 180 672 177C675 174 678 170 681 166C684 162 686 158 688 154C691 149 692 145 694 140C696 135 698 130 700 126C702 121 703 116 705 111C708 107 710 103 712 99C715 95 720 89 721 87 M266 563C268 561 271 555 273 551C276 547 279 543 282 540C286 536 289 534 293 531C298 529 302 526 307 525C312 523 317 521 322 520C327 518 332 517 338 516C343 515 349 514 354 512C359 511 364 509 369 507C374 506 378 503 382 501C386 498 390 496 393 492C397 489 400 485 402 482C405 478 407 473 409 469C411 464 413 459 415 455C417 450 418 445 420 440C422 435 423 430 425 425C427 421 429 416 432 412C434 408 437 404 440 401C443 397 447 394 451 391C454 388 459 386 463 384C467 382 472 380 477 378C482 376 487 374 491 373C496 371 501 369 506 367C510 365 515 363 519 361C523 359 527 356 531 353C535 350 538 346 541 343C543 339 546 335 548 330C550 326 552 321 553 316C555 311 556 305 558 300C559 295 560 289 561 284C563 279 564 274 566 269C567 264 569 259 571 254C573 250 576 246 579 242C582 239 585 235 589 232C593 230 597 227 601 225C605 223 610 221 615 219C620 217 625 216 630 214C635 212 640 211 645 209C650 208 655 206 659 204C664 202 668 199 672 197C676 194 679 191 683 188C686 184 689 181 691 177C694 173 696 168 698 164C700 159 702 154 704 150C706 145 708 140 709 135C711 131 713 126 715 121C718 117 720 113 723 109C725 105 728 101 732 98C735 95 739 92 743 90C747 87 754 85 757 83 M284 561C285 559 290 554 293 551C297 547 301 545 305 542C309 540 314 538 319 536C324 535 329 533 334 532C339 531 345 529 350 528C355 527 361 526 366 524C371 523 376 521 381 519C385 517 390 515 393 512C397 510 401 507 404 503C407 500 410 496 413 492C415 488 417 483 419 479C421 474 423 469 425 464C426 459 428 454 430 450C431 445 433 440 435 435C437 431 440 426 442 422C445 419 448 415 451 412C454 408 458 405 462 403C466 400 470 398 475 396C479 393 484 392 489 390C494 388 499 387 504 385C508 383 513 381 518 379C522 377 527 375 531 373C535 370 539 367 542 364C546 361 549 357 551 353C554 349 556 345 558 340C560 336 562 331 563 326C565 321 566 315 567 310C569 305 570 299 571 294C572 289 574 283 576 279C577 274 579 269 582 265C584 261 587 257 590 253C593 250 596 247 600 244C604 241 608 239 613 237C617 235 622 233 627 231C632 229 637 228 642 226C647 225 652 223 657 221C662 220 666 218 671 215C675 213 679 211 683 208C687 205 690 202 693 198C697 195 699 191 702 187C704 183 706 178 708 174C710 169 712 164 714 159C716 155 717 150 719 145C721 140 723 136 725 131C728 127 730 123 733 119C736 116 739 112 743 109C746 106 750 104 755 101C759 99 764 97 768 95C773 94 779 92 784 91C789 89 794 88 800 87C805 86 813 83 815 83 M304 562C306 560 312 556 316 554C321 552 326 550 331 548C336 547 341 545 346 544C351 543 357 542 362 540C367 539 373 538 378 536C383 535 388 533 392 531C397 529 401 526 405 523C408 521 412 517 415 514C418 510 420 506 423 502C425 498 427 493 429 488C431 484 433 479 434 474C436 469 438 464 440 459C441 455 443 450 445 445C448 441 450 437 453 433C456 429 459 426 462 423C466 419 469 417 474 414C478 412 482 410 487 408C491 405 496 404 501 402C506 400 511 399 516 397C521 395 525 393 530 391C534 389 539 387 543 384C547 382 550 379 553 375C557 372 560 368 562 364C565 360 567 355 568 351C570 346 572 341 573 336C575 330 576 325 577 320C578 314 579 309 581 304C582 299 584 293 586 289C588 284 590 279 592 275C595 271 598 268 601 264C604 261 608 258 612 255C616 253 620 251 625 249C629 247 634 245 639 243C644 241 649 240 654 238C659 237 664 235 669 233C674 231 678 229 682 227C687 225 691 222 694 219C698 216 701 213 704 209C707 205 710 201 712 197C714 193 716 188 718 184C720 179 722 174 724 169C725 164 727 159 729 155C731 150 733 146 735 141C738 137 740 133 744 130C747 126 750 123 754 120C757 117 762 115 766 113C771 111 775 109 780 107C785 106 791 104 796 103C801 102 807 100 812 99C817 98 822 96 827 95C832 93 837 91 841 89C846 87 851 82 853 81 M328 566C330 565 338 562 343 560C348 559 353 558 358 556C364 555 369 554 374 553C380 551 385 550 390 548C395 546 399 545 404 542C408 540 412 537 416 534C419 531 422 528 425 524C428 521 431 516 433 512C435 508 437 503 439 498C441 494 442 489 444 484C446 479 447 474 449 469C451 464 453 460 456 456C458 451 460 447 463 444C466 440 470 437 473 434C477 431 481 428 485 426C489 423 494 421 499 419C503 418 508 416 513 414C518 412 523 411 528 409C533 407 537 405 542 403C546 401 550 399 554 396C558 393 561 390 564 386C568 383 570 379 573 375C575 370 577 366 579 361C580 356 582 351 583 345C584 340 585 335 587 329C588 324 589 319 591 314C592 308 594 303 596 299C598 294 600 290 603 286C605 282 609 279 612 275C615 272 619 269 623 267C628 265 632 262 637 261C641 259 646 257 651 255C656 254 661 252 666 251C671 249 676 247 681 245C685 243 690 241 694 239C698 236 702 233 705 230C709 227 712 223 715 220C717 216 720 212 722 207C724 203 726 198 728 193C730 189 731 184 733 179C735 174 737 169 739 165C741 160 743 156 746 152C748 148 751 144 754 140C757 137 761 134 765 131C769 129 773 126 778 124C782 122 787 121 792 119C797 118 803 116 808 115C813 114 819 113 824 111C829 110 834 108 839 107C844 105 849 103 853 100C857 98 861 95 864 92C868 89 872 83 873 82 M370 568C373 568 381 566 386 565C392 563 397 562 402 560C406 558 411 556 415 554C419 551 423 549 427 545C430 542 433 539 436 535C438 531 441 527 443 522C445 518 447 513 449 508C451 503 452 498 454 493C456 489 457 484 459 479C461 474 463 470 466 466C468 462 471 458 474 454C477 451 481 448 485 445C488 442 493 440 497 437C501 435 506 433 511 432C515 430 521 428 525 426C530 425 535 423 540 421C545 419 549 417 554 415C558 413 562 410 566 407C569 404 573 401 575 397C578 394 581 389 583 385C585 381 587 376 589 371C590 366 591 360 593 355C594 350 595 344 596 339C598 334 599 328 601 323C602 318 604 314 606 309C608 305 611 301 614 297C616 293 620 290 623 287C627 284 631 281 635 279C639 276 644 274 649 273C654 271 659 269 664 268C668 266 674 264 678 263C683 261 688 259 693 257C697 255 702 253 705 250C709 247 713 244 716 241C720 238 722 234 725 230C728 226 730 222 732 217C734 213 736 208 738 203C740 198 741 193 743 189C745 184 747 179 749 175C751 170 753 166 756 162C759 158 762 154 765 151C768 148 772 145 776 143C780 140 785 138 789 136C794 134 799 133 804 131C810 130 815 129 820 127C826 126 831 125 836 123C841 122 846 120 851 118C856 117 860 114 864 112C868 109 872 106 875 103C878 100 882 94 884 92 M426 565C428 564 434 559 437 556C441 553 443 549 446 545C449 541 451 537 453 532C455 528 457 523 458 518C460 513 462 508 464 503C465 498 467 494 469 489C471 485 474 480 476 476C479 472 482 469 485 465C488 462 492 459 496 456C500 454 504 451 509 449C513 447 518 445 523 444C528 442 533 440 538 439C542 437 547 435 552 433C557 431 561 429 565 427C570 424 573 422 577 419C580 415 583 412 586 408C589 404 591 400 593 395C595 391 597 386 598 381C600 376 601 370 603 365C604 360 605 354 606 349C608 344 609 338 611 333C612 329 614 324 616 320C619 315 621 311 624 308C627 304 631 301 635 298C638 295 643 293 647 291C651 288 656 287 661 285C666 283 671 281 676 280C681 278 686 277 691 275C695 273 700 271 704 269C709 267 713 264 717 261C721 259 724 255 727 252C730 248 733 244 735 240C738 236 740 232 742 227C744 223 746 218 747 213C749 208 751 203 753 198C755 194 757 189 759 185C761 180 763 176 766 172C769 169 772 165 776 162C779 159 783 156 787 154C792 152 796 150 801 148C806 146 811 145 817 143C822 142 827 141 832 139C838 138 843 137 848 135C853 134 858 132 863 130C867 128 872 126 876 123C879 120 883 117 886 114C889 110 892 106 894 102C897 98 899 91 900 89 M448 567C449 565 454 559 456 555C459 551 461 547 463 542C465 537 466 532 468 528C470 523 472 518 473 513C475 508 477 504 479 499C482 495 484 491 487 487C489 483 493 479 496 476C499 473 503 470 507 468C511 465 516 463 521 461C525 459 530 458 535 456C540 454 545 453 550 451C555 449 560 447 564 445C569 443 573 441 577 439C581 436 585 433 588 430C591 426 594 423 597 419C599 415 602 410 603 406C605 401 607 396 608 391C610 385 611 380 612 375C614 369 615 364 616 359C617 353 619 348 621 344C623 339 625 334 627 330C629 326 632 322 635 319C639 315 642 312 646 309C650 307 654 305 659 302C663 300 668 299 673 297C678 295 683 294 688 292C693 290 698 289 703 287C707 285 712 283 716 281C720 278 724 276 728 273C732 270 735 266 738 263C741 259 743 255 746 251C748 246 750 242 752 237C754 232 755 227 757 223C759 218 761 213 763 208C764 204 766 199 769 195C771 190 774 186 777 183C780 179 783 176 787 173C790 170 795 168 799 165C803 163 808 161 813 160C818 158 823 157 829 155C834 154 839 153 845 152C850 150 855 149 860 147C865 146 870 144 874 142C879 140 883 137 887 134C890 131 894 128 897 125C900 121 902 117 904 112C907 108 909 103 910 99C912 94 914 86 915 84 M466 565C467 563 471 556 473 552C474 547 476 542 478 537C480 532 481 528 483 523C485 518 487 514 489 509C492 505 494 501 497 497C500 494 504 490 507 487C511 484 515 482 519 479C523 477 528 475 533 473C537 471 542 470 547 468C552 466 557 465 562 463C567 461 572 459 576 457C581 455 585 453 589 450C593 447 596 444 599 441C602 437 605 433 607 429C610 425 612 420 614 416C615 411 617 406 618 400C620 395 621 390 622 384C623 379 624 374 626 369C627 363 629 358 631 354C633 349 635 345 638 341C640 337 643 333 646 330C650 326 654 324 658 321C662 319 666 316 671 314C675 312 680 311 685 309C690 307 695 306 700 304C705 302 710 301 715 299C719 297 724 295 728 292C732 290 736 287 739 284C742 280 746 277 748 273C751 269 753 265 756 261C758 256 760 252 762 247C763 242 765 237 767 232C769 228 770 223 772 218C774 213 776 209 779 205C781 201 784 197 787 193C790 190 794 187 798 184C802 181 806 179 811 177C815 175 820 173 825 172C830 170 836 169 841 168C846 166 852 165 857 164C862 162 867 161 872 159C877 158 882 156 886 153C890 151 894 148 898 145C901 142 904 139 907 135C910 131 912 127 915 123C917 118 918 113 920 108C922 104 924 96 925 93 M482 562C483 559 486 552 488 547C489 542 491 537 493 533C495 528 497 524 500 520C502 515 505 512 508 508C511 505 515 501 518 499C522 496 526 493 531 491C535 489 540 487 545 485C549 483 554 482 559 480C564 478 569 477 574 475C579 473 584 471 588 469C592 467 596 464 600 462C604 459 607 455 610 452C613 448 616 444 618 440C620 435 622 431 624 426C625 421 627 415 628 410C629 405 630 399 632 394C633 389 634 383 636 378C637 373 639 368 641 364C643 359 645 355 648 351C651 347 654 344 658 341C661 338 665 335 669 333C674 330 678 328 683 326C687 324 692 323 697 321C702 319 707 318 712 316C717 314 722 313 726 311C731 308 735 306 739 304C743 301 747 298 750 295C753 291 756 288 759 284C761 280 764 275 766 271C768 266 770 261 771 257C773 252 775 247 777 242C778 237 780 232 782 228C784 223 787 219 789 215C792 211 795 207 798 204C801 201 805 198 809 195C813 193 818 191 822 189C827 187 832 185 837 184C842 182 848 181 853 180C858 179 864 177 869 176C874 175 879 173 884 171C889 169 893 167 897 165C902 162 905 160 909 156C912 153 915 150 918 146C920 142 923 137 925 133C927 128 928 123 930 118C932 113 933 108 935 103C936 98 939 91 939 88 M497 557C498 554 501 547 503 543C505 538 507 534 510 530C513 526 516 522 519 519C522 516 526 513 530 510C534 507 538 505 542 503C547 501 552 499 557 497C561 495 567 494 572 492C576 491 581 489 586 487C591 485 596 483 600 481C604 479 608 476 611 473C615 470 618 466 621 463C624 459 626 455 628 450C630 446 632 441 634 436C635 431 636 425 638 420C639 415 640 409 641 404C643 399 644 393 646 388C647 383 649 379 651 374C654 370 656 366 659 362C662 358 665 355 669 352C673 349 677 347 681 345C685 342 690 340 695 338C700 337 705 335 710 333C714 332 720 330 724 328C729 326 734 325 738 322C743 320 747 318 750 315C754 312 758 309 761 305C764 302 767 298 769 294C772 290 774 285 776 281C778 276 779 271 781 266C783 262 785 257 786 252C788 247 790 242 792 238C794 233 797 229 800 225C802 222 805 218 809 215C812 212 816 209 820 207C825 204 829 202 834 200C839 199 844 197 849 196C854 194 860 193 865 192C870 191 876 190 881 188C886 187 891 185 896 183C900 181 905 179 909 176C913 174 916 171 920 167C923 164 926 160 928 156C931 152 933 147 935 143C936 138 938 133 940 128C941 123 943 118 944 113C946 108 948 103 949 98C951 93 955 87 956 85 M507 567C508 564 511 557 513 553C515 548 518 544 520 540C523 536 526 533 530 530C533 527 537 524 541 521C545 519 550 517 554 515C559 513 564 511 569 509C574 508 579 506 584 505C589 503 594 501 598 499C603 497 607 495 611 493C616 490 619 487 623 484C626 481 629 477 632 473C634 469 637 465 639 460C640 456 642 451 644 446C645 440 646 435 647 430C649 424 650 419 651 414C653 408 654 403 656 398C658 394 659 389 662 385C664 380 667 377 670 373C673 370 677 366 680 364C684 361 689 359 693 356C697 354 702 352 707 351C712 349 717 347 722 346C727 344 732 342 736 340C741 338 746 336 750 334C754 332 758 329 762 326C765 323 769 320 772 316C774 313 777 308 779 304C782 300 784 295 786 291C788 286 789 281 791 276C793 271 794 266 796 262C798 257 800 252 802 248C805 244 807 239 810 236C813 232 816 229 820 226C823 223 827 220 832 218C836 216 841 214 846 212C851 211 856 209 861 208C867 207 872 206 877 204C883 203 888 202 893 200C898 199 903 197 907 195C912 193 916 190 920 187C924 185 927 181 930 178C933 174 936 170 938 166C941 162 943 157 944 152C946 148 948 143 949 138C951 133 952 128 954 123C956 118 957 113 959 108C961 103 964 99 966 95C969 91 973 86 975 84 M523 563C525 561 528 555 531 551C534 547 537 544 541 541C544 538 548 535 553 533C557 531 562 529 566 527C571 525 576 523 581 522C586 520 591 518 596 517C601 515 606 513 610 511C615 509 619 507 623 504C627 502 631 499 634 495C637 492 640 488 642 484C645 480 647 475 649 470C651 466 652 461 653 455C655 450 656 445 657 439C658 434 660 429 661 423C663 418 664 413 666 409C668 404 670 399 672 395C675 391 678 387 681 384C684 381 688 378 692 375C696 373 700 370 705 368C709 366 714 365 719 363C724 361 729 359 734 358C739 356 744 354 748 352C753 350 757 348 761 346C766 343 769 340 773 337C776 334 779 331 782 327C785 323 787 319 790 314C792 310 794 305 795 300C797 296 799 291 801 286C802 281 804 276 806 271C808 267 810 262 812 258C815 254 817 250 821 246C824 243 827 240 831 237C835 234 839 232 843 230C848 228 853 226 858 224C863 223 868 221 874 220C879 219 884 218 890 216C895 215 900 214 905 212C910 210 915 209 919 206C923 204 928 202 931 199C935 196 938 192 941 189C944 185 946 181 948 176C951 172 953 167 954 162C956 158 958 152 959 147C961 142 962 137 964 132C966 128 967 123 970 118C972 114 974 109 977 106C979 102 982 98 986 95C989 92 995 88 997 86 M542 562C543 560 548 555 552 552C556 549 560 547 564 545C569 542 573 540 578 539C583 537 588 535 593 534C598 532 603 531 608 529C613 527 618 525 622 523C626 521 631 519 635 516C638 513 642 510 645 506C648 503 650 499 653 494C655 490 657 485 659 481C660 476 662 470 663 465C665 460 666 454 667 449C668 444 669 438 671 433C672 428 674 423 676 419C678 414 680 410 683 406C686 402 689 398 692 395C696 392 700 389 704 387C708 384 712 382 717 380C722 378 726 377 731 375C736 373 741 372 746 370C751 368 756 366 760 364C765 362 769 360 773 357C777 355 781 352 784 348C787 345 790 341 793 337C795 333 797 329 800 324C802 320 803 315 805 310C807 305 809 300 810 296C812 291 814 286 816 281C818 277 820 272 823 268C825 264 828 260 831 257C834 254 838 251 842 248C846 245 850 243 855 241C860 239 865 238 870 236C875 235 880 234 886 232C891 231 896 230 902 229C907 227 912 226 917 224C922 222 926 220 931 218C935 215 939 213 942 210C946 206 949 203 951 199C954 195 956 191 959 186C961 182 962 177 964 172C966 167 967 162 969 157C971 152 972 147 974 142C976 137 978 133 980 128C982 124 984 120 987 116C990 112 993 109 997 106C1001 103 1004 100 1009 98C1013 95 1017 93 1022 91C1027 89 1031 88 1036 86C1041 84 1048 81 1051 80 M563 563C565 562 572 558 576 556C581 554 585 552 590 551C595 549 600 548 605 546C610 544 615 543 620 541C625 539 630 537 634 535C638 533 642 530 646 527C650 524 653 521 656 517C659 513 661 509 663 505C665 500 667 496 669 491C670 486 672 480 673 475C674 470 675 464 677 459C678 454 679 448 681 443C683 438 684 433 686 429C689 425 691 420 694 417C697 413 700 410 704 407C707 404 711 401 715 399C720 396 724 394 729 392C734 391 739 389 744 387C748 385 753 384 758 382C763 380 768 378 772 376C776 374 781 371 784 369C788 366 792 363 795 359C798 356 801 352 803 348C806 344 808 339 810 334C812 330 813 325 815 320C817 315 818 310 820 305C822 301 824 296 826 291C828 287 830 282 833 279C836 275 839 271 842 268C845 265 849 262 853 259C857 257 862 255 867 253C872 251 877 250 882 248C887 247 893 246 898 245C903 243 909 242 914 241C919 239 924 238 929 236C933 234 938 232 942 229C946 227 950 224 953 220C956 217 959 213 962 209C964 205 967 201 969 196C971 192 972 187 974 182C976 177 977 172 979 167C980 162 982 157 984 152C986 148 988 143 990 139C992 134 995 131 998 127C1001 123 1005 120 1008 117C1012 114 1016 112 1020 110C1025 107 1029 105 1034 103C1039 101 1044 100 1048 98C1053 96 1060 93 1063 93 M588 568C590 567 598 565 602 563C607 561 613 560 618 558C622 556 627 555 632 553C637 551 641 549 646 547C650 544 654 542 657 538C661 535 664 532 666 528C669 524 671 520 673 515C676 511 677 506 679 500C680 495 681 490 683 485C684 479 685 474 686 469C688 463 689 458 691 453C693 448 694 444 697 439C699 435 702 431 705 428C708 424 711 421 715 418C719 415 723 413 727 410C732 408 736 406 741 405C746 403 751 401 756 399C761 398 766 396 770 394C775 392 780 390 784 388C788 385 792 383 796 380C799 377 803 374 805 370C808 366 811 362 813 358C816 354 818 349 820 344C821 340 823 335 825 330C826 325 828 320 830 315C832 310 834 306 836 301C838 297 840 293 843 289C846 285 849 282 853 279C856 276 860 273 865 271C869 268 874 267 879 265C884 263 889 262 894 260C899 259 905 258 910 257C915 255 921 254 926 253C931 251 936 250 940 248C945 245 949 243 953 240C957 238 961 235 964 231C967 228 970 224 972 220C975 216 977 211 978 206C980 202 982 197 984 192C985 187 987 182 988 177C990 172 992 167 994 162C996 158 998 153 1000 149C1003 145 1006 141 1009 138C1012 134 1016 131 1020 129C1024 126 1028 124 1032 121C1037 119 1041 117 1046 116C1051 114 1058 111 1061 110 M644 565C646 564 653 561 657 558C661 556 665 553 668 550C672 546 675 543 677 538C680 534 682 530 684 525C686 521 687 515 689 510C690 505 691 500 692 494C694 489 695 484 696 478C698 473 699 468 701 463C703 459 705 454 707 450C710 446 713 442 716 439C719 435 723 432 727 430C730 427 735 425 739 422C744 420 748 418 753 417C758 415 763 413 768 412C773 410 778 408 782 406C787 404 791 402 795 399C799 397 803 394 807 391C810 388 813 384 816 381C819 377 821 373 823 368C826 364 828 359 829 354C831 349 833 344 834 339C836 335 838 330 840 325C842 320 844 316 846 311C848 307 851 303 854 299C857 296 860 293 864 290C868 287 872 284 876 282C881 280 886 278 891 277C896 275 901 274 906 273C911 271 917 270 922 269C928 268 933 266 938 265C943 263 948 261 952 259C957 257 961 255 964 252C968 249 971 245 974 242C977 238 980 234 982 230C985 226 986 221 988 216C990 211 992 206 993 201C995 196 996 191 998 186C1000 182 1002 177 1004 172C1006 168 1008 164 1011 160C1014 156 1017 152 1020 149C1023 146 1027 143 1031 140C1035 138 1040 135 1044 133C1049 131 1056 129 1058 128 M669 570C671 568 676 564 679 561C682 557 685 553 688 549C690 545 692 540 694 535C696 531 697 525 698 520C700 515 701 509 702 504C703 499 705 493 706 488C708 483 709 478 711 474C713 469 715 465 718 461C721 457 724 453 727 450C730 447 734 444 738 441C742 439 747 436 751 434C756 432 761 431 765 429C770 427 775 425 780 424C785 422 790 420 794 418C799 416 803 414 807 411C811 408 815 405 818 402C821 399 824 395 827 391C829 387 831 383 834 378C836 374 837 369 839 364C841 359 842 354 844 349C846 344 848 339 850 335C852 330 854 326 856 321C859 317 861 314 864 310C868 307 871 304 875 301C879 298 883 296 888 294C892 292 897 290 903 289C908 287 913 286 918 285C924 283 929 282 934 281C940 280 945 278 950 277C955 275 959 273 964 271C968 268 972 266 975 263C979 260 982 256 985 252C988 249 990 244 992 240C995 236 996 231 998 226C1000 221 1001 216 1003 211C1005 206 1006 201 1008 196C1010 192 1012 187 1014 182C1016 178 1019 174 1022 170C1024 167 1028 163 1031 160C1035 157 1039 154 1043 152C1047 149 1054 146 1056 145 M698 559C699 557 702 550 704 545C705 540 707 535 708 530C709 525 711 519 712 514C713 509 714 503 716 498C718 493 719 488 721 484C724 479 726 475 729 471C732 468 735 464 738 461C742 458 746 455 750 453C754 450 759 448 763 446C768 444 773 443 778 441C782 439 787 438 792 436C797 434 802 432 806 430C810 428 815 425 818 422C822 420 826 416 829 413C832 409 835 406 837 401C840 397 842 393 844 388C846 384 847 379 849 374C851 369 852 364 854 359C856 354 857 349 859 345C862 340 864 336 866 332C869 328 872 324 875 321C879 318 882 315 886 312C890 310 895 308 900 306C904 304 909 302 915 301C920 299 925 298 931 297C936 296 941 295 947 293C952 292 957 290 962 288C966 287 971 285 975 282C979 280 983 277 986 274C990 270 993 267 995 263C998 259 1000 255 1002 250C1004 245 1006 241 1008 236C1010 231 1011 226 1013 221C1014 216 1016 211 1018 206C1020 202 1022 197 1024 193C1027 189 1029 185 1032 181C1035 177 1039 174 1042 171C1046 168 1050 166 1055 164C1059 161 1066 158 1068 157 M708 570C709 567 712 560 714 555C715 550 717 545 718 540C719 534 720 529 722 524C723 518 724 513 726 508C728 503 730 499 732 494C734 490 737 486 740 482C743 479 746 475 750 472C753 469 757 467 762 465C766 462 771 460 775 459C780 457 785 455 790 453C795 451 800 450 804 448C809 446 814 444 818 442C822 439 826 437 830 434C833 431 837 427 840 424C842 420 845 416 847 412C850 408 852 403 854 398C855 393 857 388 859 384C860 379 862 374 864 369C865 364 867 359 869 355C872 350 874 346 877 342C879 338 883 335 886 332C890 329 893 326 898 324C902 321 907 319 911 317C916 316 921 314 927 313C932 312 937 310 943 309C948 308 953 307 959 305C964 304 969 302 973 300C978 298 982 296 986 293C990 291 994 288 997 284C1000 281 1003 277 1006 273C1008 269 1010 265 1012 260C1014 255 1016 250 1018 245C1019 241 1021 235 1023 231C1024 226 1026 221 1028 216C1030 212 1032 207 1035 203C1037 199 1040 195 1043 192C1046 188 1050 185 1054 183C1058 180 1064 177 1066 175 M724 565C724 563 726 555 728 549C729 544 730 539 731 533C733 528 734 523 736 518C738 513 740 509 742 505C745 501 747 497 751 493C754 490 757 487 761 484C765 481 769 479 774 477C778 474 783 473 787 471C792 469 797 467 802 465C807 464 812 462 816 460C821 458 825 456 829 453C834 451 837 448 841 445C844 442 847 438 850 434C853 431 855 426 858 422C860 418 862 413 863 408C865 403 867 398 868 393C870 388 872 383 873 379C875 374 877 369 880 365C882 360 884 356 887 353C890 349 893 346 897 343C901 340 905 337 909 335C914 333 918 331 923 329C928 328 934 326 939 325C944 324 950 323 955 321C960 320 966 319 971 317C976 316 981 314 985 312C990 310 994 307 998 305C1001 302 1005 299 1008 295C1011 292 1014 288 1016 283C1018 279 1020 275 1022 270C1024 265 1026 260 1027 255C1029 250 1031 245 1032 240C1034 236 1036 231 1038 226C1040 222 1042 218 1045 214C1048 210 1051 206 1054 203C1058 200 1063 196 1065 194 M737 559C738 556 740 548 741 543C743 538 744 533 746 528C748 524 750 519 753 515C755 511 758 508 762 504C765 501 769 498 773 495C777 493 781 491 786 489C790 486 795 485 800 483C804 481 809 479 814 478C819 476 824 474 828 472C833 470 837 467 841 465C845 462 849 459 852 456C855 453 858 449 861 445C863 441 866 437 868 432C870 428 872 423 873 418C875 413 876 408 878 403C880 398 881 393 883 388C885 384 887 379 890 375C892 371 895 367 898 363C901 360 904 357 908 354C912 351 916 349 921 347C925 345 930 343 935 341C940 340 946 339 951 337C956 336 962 335 967 334C972 332 978 331 983 329C987 328 992 326 997 323C1001 321 1005 319 1009 316C1012 313 1015 309 1018 306C1021 302 1024 298 1026 293C1028 289 1030 284 1032 280C1034 275 1035 270 1037 265C1039 260 1040 255 1042 250C1044 245 1046 241 1048 236C1050 232 1053 228 1056 224C1059 220 1064 216 1065 214 M747 569C748 566 750 558 751 553C753 548 754 543 756 539C759 534 761 530 764 526C766 522 769 519 773 515C776 512 780 510 784 507C788 505 793 503 798 501C802 499 807 497 812 495C817 493 822 492 826 490C831 488 836 486 840 484C844 481 849 479 852 476C856 473 860 470 863 467C866 463 869 460 871 455C874 451 876 447 878 442C880 438 881 433 883 428C885 423 886 418 888 413C890 408 891 403 893 398C895 394 897 389 900 385C902 381 905 377 909 374C912 371 915 368 919 365C923 362 928 360 932 358C937 356 942 355 947 353C952 352 958 351 963 349C969 348 974 347 979 346C984 344 990 343 994 341C999 339 1004 337 1008 335C1012 332 1016 330 1020 327C1023 323 1026 320 1029 316C1032 312 1034 308 1036 304C1038 299 1040 294 1042 289C1044 285 1045 280 1047 275C1049 270 1050 265 1052 260C1054 255 1056 251 1058 247C1061 242 1065 237 1066 235 M761 563C762 561 765 553 767 549C769 545 772 541 774 537C777 533 781 530 784 527C788 524 792 521 796 519C800 517 805 515 810 513C814 511 819 509 824 507C829 505 834 504 838 502C843 500 848 498 852 495C856 493 860 491 864 488C867 485 871 481 874 478C877 474 879 470 882 466C884 462 886 457 888 452C890 447 891 442 893 437C894 432 896 427 898 422C899 418 901 413 903 408C905 404 908 399 910 395C913 392 916 388 919 385C923 382 927 379 931 376C935 374 939 372 944 370C949 368 954 367 959 365C965 364 970 363 975 362C981 360 986 359 991 358C996 356 1002 355 1006 353C1011 351 1015 349 1019 346C1023 344 1027 341 1030 337C1034 334 1037 330 1039 326C1042 322 1044 318 1046 313C1048 309 1050 304 1052 299C1053 294 1055 289 1057 284C1058 280 1060 275 1062 270C1064 266 1068 259 1069 257 M777 559C779 558 782 551 785 548C788 544 792 541 796 538C799 535 804 533 808 531C812 529 817 527 822 525C826 523 831 521 836 519C841 518 846 516 850 514C855 512 859 510 864 507C868 505 872 502 875 499C878 496 882 492 884 488C887 485 890 480 892 476C894 472 896 467 898 462C899 457 901 452 903 447C904 442 906 437 907 432C909 427 911 423 913 418C915 414 918 410 921 406C924 402 927 399 930 396C934 393 938 390 942 388C946 385 951 384 956 382C961 380 966 379 972 378C977 376 982 375 988 374C993 373 998 371 1003 370C1008 368 1013 367 1018 365C1022 362 1027 360 1031 357C1035 355 1038 352 1041 348C1044 345 1047 341 1049 337C1052 333 1054 328 1056 323C1058 319 1060 314 1061 309C1063 304 1066 297 1066 294 M796 559C798 557 803 553 807 550C811 547 815 545 820 543C824 541 829 539 834 537C839 535 844 533 848 532C853 530 858 528 862 526C867 524 871 521 875 519C879 516 883 513 886 510C889 507 892 503 895 499C898 495 900 491 902 486C904 482 906 477 907 472C909 467 911 462 912 457C914 452 915 447 917 442C919 437 921 433 923 428C926 424 928 420 931 416C934 413 938 410 941 407C945 404 949 401 954 399C958 397 963 395 968 394C973 392 978 391 984 390C989 388 994 387 1000 386C1005 385 1010 383 1015 382C1020 380 1025 378 1030 376C1034 374 1038 371 1042 369C1045 366 1049 362 1052 359C1055 355 1057 351 1060 347C1062 343 1065 335 1066 333 M819 561C821 560 827 557 832 555C836 553 841 551 846 549C851 547 856 546 861 544C865 542 870 540 874 538C879 535 883 533 887 530C890 527 894 524 897 521C900 517 903 514 906 510C908 505 910 501 912 496C914 492 916 487 917 482C919 477 920 472 922 467C924 462 925 457 927 452C929 447 931 443 934 439C936 434 939 431 942 427C945 424 949 421 953 418C956 415 961 413 965 411C970 409 975 407 980 406C985 404 991 403 996 402C1001 401 1007 399 1012 398C1017 397 1022 395 1027 394C1032 392 1037 390 1041 388C1045 385 1049 383 1053 380C1056 377 1059 373 1062 369C1065 365 1068 359 1070 357 M844 567C846 566 854 563 858 561C863 559 868 558 873 556C877 554 882 552 886 550C890 547 894 545 898 542C902 539 905 535 908 532C911 528 914 524 916 520C918 516 920 511 922 506C924 501 925 496 927 491C929 486 930 481 932 476C933 471 935 466 937 462C939 457 941 453 944 449C946 445 949 441 953 438C956 435 960 432 964 429C968 427 972 425 977 423C982 421 987 419 992 418C997 417 1003 415 1008 414C1013 413 1019 412 1024 410C1029 409 1034 407 1039 405C1044 404 1048 402 1052 399C1056 397 1062 392 1064 390 M885 568C887 567 894 564 898 561C902 559 906 556 909 553C913 550 916 546 919 543C922 539 924 535 926 530C928 526 930 521 932 516C934 511 935 506 937 501C938 496 940 491 942 486C943 481 945 476 947 472C949 467 952 463 954 459C957 455 960 452 964 449C967 446 971 443 975 441C979 438 984 436 989 435C994 433 999 431 1004 430C1009 429 1015 428 1020 426C1026 425 1031 424 1036 422C1041 421 1046 419 1051 417C1055 415 1061 411 1064 410 M920 564C922 562 927 557 929 553C932 549 934 545 936 540C938 536 940 531 942 526C943 521 945 516 946 511C948 506 950 501 951 496C953 491 955 486 957 482C959 478 962 474 965 470C968 466 971 463 975 460C978 457 982 454 987 452C991 450 996 448 1001 447C1006 445 1011 444 1016 442C1022 441 1027 440 1032 438C1038 437 1043 436 1048 434C1053 433 1060 430 1062 429 M940 564C941 562 944 555 946 550C948 546 950 541 952 536C953 531 955 526 956 521C958 516 959 511 961 506C963 501 965 496 967 492C970 488 972 484 975 480C979 477 982 474 986 471C990 468 994 466 998 464C1003 462 1008 460 1013 459C1018 457 1023 456 1029 454C1034 453 1039 452 1045 451C1050 449 1057 447 1060 446 M956 560C957 558 960 551 961 546C963 541 964 535 966 530C968 525 969 520 971 516C973 511 975 507 978 502C980 498 983 495 986 491C989 488 993 485 997 482C1001 480 1005 477 1010 476C1015 474 1020 472 1025 471C1030 469 1035 468 1041 467C1046 465 1054 463 1057 463 M971 555C972 553 974 545 976 540C977 535 979 530 981 526C983 521 985 517 988 513C991 509 994 505 997 502C1000 499 1004 496 1008 494C1013 491 1017 489 1022 487C1027 486 1032 484 1037 483C1042 481 1048 480 1053 479C1058 477 1066 475 1069 475 M981 565C982 563 984 555 986 550C987 545 989 540 991 536C993 531 996 527 998 523C1001 520 1004 516 1008 513C1012 510 1016 507 1020 505C1024 503 1029 501 1034 499C1039 498 1044 496 1049 495C1054 493 1062 492 1065 491 M995 560C996 557 999 550 1001 546C1004 542 1006 538 1009 534C1012 530 1015 527 1019 524C1023 521 1027 519 1031 517C1036 515 1041 513 1046 511C1051 510 1059 508 1061 507 M1005 570C1006 567 1009 560 1012 556C1014 552 1017 548 1020 545C1023 541 1026 538 1030 535C1034 533 1039 530 1043 528C1048 526 1055 524 1058 523 M1022 567C1023 565 1027 559 1031 555C1034 552 1038 549 1042 547C1046 544 1050 542 1055 540C1060 538 1067 536 1070 535 M1042 566C1044 565 1049 561 1053 558C1057 556 1065 553 1067 552" fill="none" stroke="#dcdce0" stroke-width="1.8"/></g></g></g>
  <polygon points="81,0 512,0 881,354" fill="#efeff1" opacity="0.9"/>
  <defs><linearGradient id="rg" x1="0" y1="0" x2="1" y2="0"><stop offset="0" stop-color="#f8f8fa" stop-opacity="0"/><stop offset="0.45" stop-color="#f8f8fa" stop-opacity="0.85"/><stop offset="1" stop-color="#f9f9fb" stop-opacity="0.9"/></linearGradient></defs>
  <polygon points="881,354 1024,214 1024,527 800,527 800,354" fill="url(#rg)"/>
</svg>
<div id="hdr"></div>
<svg width="1024" height="580" viewBox="0 0 1024 580">
<text x="28.4" y="38.8" class="ti" textLength="399.5" lengthAdjust="spacingAndGlyphs">Trabajadores asegurados en</text>
<text x="28.8" y="76.6" class="ti" textLength="116.5" lengthAdjust="spacingAndGlyphs">Yucatán</text>
</svg>
<svg width="1024" height="580" viewBox="0 0 1024 580">
  <rect x="105.2" y="229" width="86.9" height="231.5" fill="#e9444b" opacity="0.22"/>
  <rect x="209.3" y="229.3" width="716.2" height="231.2" fill="#86bd4c" opacity="0.2"/>
  <line x1="103.1" y1="145" x2="103.1" y2="332" stroke="#c9d6c0" stroke-width="3.4" stroke-dasharray="13 6.5"/>
  <line x1="957.5" y1="144" x2="957.5" y2="151" stroke="#c5d3bb" stroke-width="3"/>
  <line x1="132" y1="139" x2="933.5" y2="139" stroke="#6eac45" stroke-width="3.7"/>
  <circle cx="132" cy="139" r="12.1" fill="#6eac45"/>
  <circle cx="933.5" cy="139" r="12.1" fill="#6eac45"/>
  <text x="56.20" y="208.40" class="yl" textLength="35.10" lengthAdjust="spacingAndGlyphs">440,000</text>
<text x="57.40" y="239.00" class="yl" textLength="35.10" lengthAdjust="spacingAndGlyphs">420,000</text>
<text x="57.40" y="268.50" class="yl" textLength="32.20" lengthAdjust="spacingAndGlyphs">410,000</text>
<text x="55.00" y="300.10" class="yl" textLength="35.80" lengthAdjust="spacingAndGlyphs">400,000</text>
<text x="55.40" y="333.30" class="yl" textLength="35.40" lengthAdjust="spacingAndGlyphs">390,000</text>
<text x="55.80" y="365.90" class="yl" textLength="34.90" lengthAdjust="spacingAndGlyphs">380,000</text>
<text x="55.80" y="398.10" class="yl" textLength="34.90" lengthAdjust="spacingAndGlyphs">370,000</text>
<text x="55.80" y="431.90" class="yl" textLength="34.90" lengthAdjust="spacingAndGlyphs">360,000</text>
<text x="55.80" y="464.00" class="yl" textLength="34.90" lengthAdjust="spacingAndGlyphs">350,000</text>
  <text transform="translate(46.5,423.4) rotate(-90)" style="font-family:'Liberation Sans',sans-serif;font-weight:bold;font-size:12.6px;fill:#1e1e1e;stroke:#1e1e1e;stroke-width:0.45px;" textLength="128" lengthAdjust="spacingAndGlyphs">Trabajadores asegurados</text>
  <line x1="105.2" y1="345.9" x2="105.2" y2="460.5" stroke="#5b9bd5" stroke-width="3.1"/>
<circle cx="105.2" cy="345.9" r="5.6" fill="#5b9bd5"/>
<line x1="125.2" y1="388.9" x2="125.2" y2="460.5" stroke="#5b9bd5" stroke-width="3.1"/>
<circle cx="125.2" cy="388.9" r="5.6" fill="#5b9bd5"/>
<line x1="145.5" y1="409.3" x2="145.5" y2="460.5" stroke="#5b9bd5" stroke-width="3.1"/>
<circle cx="145.5" cy="409.3" r="5.6" fill="#5b9bd5"/>
<line x1="165.5" y1="413.1" x2="165.5" y2="460.5" stroke="#5b9bd5" stroke-width="3.1"/>
<circle cx="165.5" cy="413.1" r="5.6" fill="#5b9bd5"/>
<line x1="185.75" y1="427.7" x2="185.75" y2="460.5" stroke="#5b9bd5" stroke-width="3.1"/>
<circle cx="185.75" cy="427.7" r="5.6" fill="#5b9bd5"/>
<line x1="205.75" y1="425.5" x2="205.75" y2="460.5" stroke="#5b9bd5" stroke-width="3.1"/>
<circle cx="205.75" cy="425.5" r="5.6" fill="#5b9bd5"/>
<line x1="225.75" y1="419.7" x2="225.75" y2="460.5" stroke="#5b9bd5" stroke-width="3.1"/>
<circle cx="225.75" cy="419.7" r="5.6" fill="#5b9bd5"/>
<line x1="246.0" y1="415.0" x2="246.0" y2="460.5" stroke="#5b9bd5" stroke-width="3.1"/>
<circle cx="246.0" cy="415.0" r="5.6" fill="#5b9bd5"/>
<line x1="266.0" y1="405.5" x2="266.0" y2="460.5" stroke="#5b9bd5" stroke-width="3.1"/>
<circle cx="266.0" cy="405.5" r="5.6" fill="#5b9bd5"/>
<line x1="286.0" y1="413.3" x2="286.0" y2="460.5" stroke="#5b9bd5" stroke-width="3.1"/>
<circle cx="286.0" cy="413.3" r="5.6" fill="#5b9bd5"/>
<line x1="306.25" y1="413.3" x2="306.25" y2="460.5" stroke="#5b9bd5" stroke-width="3.1"/>
<circle cx="306.25" cy="413.3" r="5.6" fill="#5b9bd5"/>
<line x1="326.75" y1="401.2" x2="326.75" y2="460.5" stroke="#5b9bd5" stroke-width="3.1"/>
<circle cx="326.75" cy="401.2" r="5.6" fill="#5b9bd5"/>
<line x1="346.75" y1="392.2" x2="346.75" y2="460.5" stroke="#5b9bd5" stroke-width="3.1"/>
<circle cx="346.75" cy="392.2" r="5.6" fill="#5b9bd5"/>
<line x1="367.0" y1="388.8" x2="367.0" y2="460.5" stroke="#5b9bd5" stroke-width="3.1"/>
<circle cx="367.0" cy="388.8" r="5.6" fill="#5b9bd5"/>
<line x1="387.25" y1="378.4" x2="387.25" y2="460.5" stroke="#5b9bd5" stroke-width="3.1"/>
<circle cx="387.25" cy="378.4" r="5.6" fill="#5b9bd5"/>
<line x1="407.25" y1="361.0" x2="407.25" y2="460.5" stroke="#5b9bd5" stroke-width="3.1"/>
<circle cx="407.25" cy="361.0" r="5.6" fill="#5b9bd5"/>
<line x1="427.5" y1="365.8" x2="427.5" y2="460.5" stroke="#5b9bd5" stroke-width="3.1"/>
<circle cx="427.5" cy="365.8" r="5.6" fill="#5b9bd5"/>
<line x1="447.5" y1="356.2" x2="447.5" y2="460.5" stroke="#5b9bd5" stroke-width="3.1"/>
<circle cx="447.5" cy="356.2" r="5.6" fill="#5b9bd5"/>
<line x1="467.75" y1="333.5" x2="467.75" y2="460.5" stroke="#5b9bd5" stroke-width="3.1"/>
<circle cx="467.75" cy="333.5" r="5.6" fill="#5b9bd5"/>
<line x1="487.5" y1="316.4" x2="487.5" y2="460.5" stroke="#5b9bd5" stroke-width="3.1"/>
<circle cx="487.5" cy="316.4" r="5.6" fill="#5b9bd5"/>
<line x1="507.75" y1="306.0" x2="507.75" y2="460.5" stroke="#5b9bd5" stroke-width="3.1"/>
<circle cx="507.75" cy="306.0" r="5.6" fill="#5b9bd5"/>
<line x1="527.75" y1="318.4" x2="527.75" y2="460.5" stroke="#5b9bd5" stroke-width="3.1"/>
<circle cx="527.75" cy="318.4" r="5.6" fill="#5b9bd5"/>
<line x1="548.0" y1="310.2" x2="548.0" y2="460.5" stroke="#5b9bd5" stroke-width="3.1"/>
<circle cx="548.0" cy="310.2" r="5.6" fill="#5b9bd5"/>
<line x1="568.0" y1="299.8" x2="568.0" y2="460.5" stroke="#5b9bd5" stroke-width="3.1"/>
<circle cx="568.0" cy="299.8" r="5.6" fill="#5b9bd5"/>
<line x1="588.0" y1="295.5" x2="588.0" y2="460.5" stroke="#5b9bd5" stroke-width="3.1"/>
<circle cx="588.0" cy="295.5" r="5.6" fill="#5b9bd5"/>
<line x1="608.25" y1="290.7" x2="608.25" y2="460.5" stroke="#5b9bd5" stroke-width="3.1"/>
<circle cx="608.25" cy="290.7" r="5.6" fill="#5b9bd5"/>
<line x1="628.25" y1="288.6" x2="628.25" y2="460.5" stroke="#5b9bd5" stroke-width="3.1"/>
<circle cx="628.25" cy="288.6" r="5.6" fill="#5b9bd5"/>
<line x1="648.5" y1="283.8" x2="648.5" y2="460.5" stroke="#5b9bd5" stroke-width="3.1"/>
<circle cx="648.5" cy="283.8" r="5.6" fill="#5b9bd5"/>
<line x1="669.0" y1="292.5" x2="669.0" y2="460.5" stroke="#5b9bd5" stroke-width="3.1"/>
<circle cx="669.0" cy="292.5" r="5.6" fill="#5b9bd5"/>
<line x1="689.3" y1="276.5" x2="689.3" y2="460.5" stroke="#5b9bd5" stroke-width="3.1"/>
<circle cx="689.3" cy="276.5" r="5.6" fill="#5b9bd5"/>
<line x1="707.6" y1="257.3" x2="707.6" y2="460.5" stroke="#5b9bd5" stroke-width="3.1"/>
<circle cx="707.6" cy="257.3" r="5.6" fill="#5b9bd5"/>
<line x1="728.3" y1="232.4" x2="728.3" y2="460.5" stroke="#5b9bd5" stroke-width="3.1"/>
<circle cx="728.3" cy="232.4" r="5.6" fill="#5b9bd5"/>
<line x1="747.3" y1="224.8" x2="747.3" y2="460.5" stroke="#5b9bd5" stroke-width="3.1"/>
<circle cx="747.3" cy="224.8" r="5.6" fill="#5b9bd5"/>
<line x1="764.5" y1="245.5" x2="764.5" y2="460.5" stroke="#5b9bd5" stroke-width="3.1"/>
<circle cx="764.5" cy="245.5" r="5.6" fill="#5b9bd5"/>
<line x1="783.4" y1="238.6" x2="783.4" y2="460.5" stroke="#5b9bd5" stroke-width="3.1"/>
<circle cx="783.4" cy="238.6" r="5.6" fill="#5b9bd5"/>
<line x1="800.4" y1="225.5" x2="800.4" y2="460.5" stroke="#5b9bd5" stroke-width="3.1"/>
<circle cx="800.4" cy="225.5" r="5.6" fill="#5b9bd5"/>
<line x1="817.2" y1="221.4" x2="817.2" y2="460.5" stroke="#5b9bd5" stroke-width="3.1"/>
<circle cx="817.2" cy="221.4" r="5.6" fill="#5b9bd5"/>
<line x1="833.4" y1="220.0" x2="833.4" y2="460.5" stroke="#5b9bd5" stroke-width="3.1"/>
<circle cx="833.4" cy="220.0" r="5.6" fill="#5b9bd5"/>
<line x1="848.3" y1="214.5" x2="848.3" y2="460.5" stroke="#5b9bd5" stroke-width="3.1"/>
<circle cx="848.3" cy="214.5" r="5.6" fill="#5b9bd5"/>
<line x1="861.7" y1="213.4" x2="861.7" y2="460.5" stroke="#5b9bd5" stroke-width="3.1"/>
<circle cx="861.7" cy="213.4" r="5.6" fill="#5b9bd5"/>
<line x1="876.7" y1="216.7" x2="876.7" y2="460.5" stroke="#5b9bd5" stroke-width="3.1"/>
<circle cx="876.7" cy="216.7" r="5.6" fill="#5b9bd5"/>
<line x1="891.6" y1="216.7" x2="891.6" y2="460.5" stroke="#5b9bd5" stroke-width="3.1"/>
<circle cx="891.6" cy="216.7" r="5.6" fill="#5b9bd5"/>
<line x1="907.8" y1="209.0" x2="907.8" y2="460.5" stroke="#5b9bd5" stroke-width="3.1"/>
<circle cx="907.8" cy="209.0" r="5.6" fill="#5b9bd5"/>
<line x1="924.1" y1="203.0" x2="924.1" y2="460.5" stroke="#5b9bd5" stroke-width="3.1"/>
<circle cx="924.1" cy="203.0" r="5.6" fill="#5b9bd5"/>
<line x1="940.7" y1="207.2" x2="940.7" y2="460.5" stroke="#5b9bd5" stroke-width="3.1"/>
<circle cx="940.7" cy="207.2" r="5.6" fill="#5b9bd5"/>
<line x1="957.6" y1="210.9" x2="957.6" y2="460.5" stroke="#0e1d5e" stroke-width="4.8"/>
<circle cx="957.6" cy="210.9" r="7.2" fill="#0e1d5e"/>
<rect x="95.80" y="330.20" width="21.6" height="8.4" rx="4.2" fill="#5b9bd5" stroke="#d6e6f5" stroke-width="0.4"/>
<text x="106.60" y="336.40" class="pt">385,116</text>
<rect x="96.35" y="319.80" width="20.5" height="8.4" rx="4.2" fill="#6eac45"/>
<text x="106.60" y="326.00" class="pt">1,495</text>
<rect x="115.80" y="373.50" width="21.6" height="8.4" rx="4.2" fill="#5b9bd5" stroke="#d6e6f5" stroke-width="0.4"/>
<text x="126.60" y="379.70" class="pt">373,047</text>
<rect x="136.10" y="393.90" width="21.6" height="8.4" rx="4.2" fill="#5b9bd5" stroke="#d6e6f5" stroke-width="0.4"/>
<text x="146.90" y="400.10" class="pt">365,877</text>
<rect x="156.10" y="398.00" width="21.6" height="8.4" rx="4.2" fill="#5b9bd5" stroke="#d6e6f5" stroke-width="0.4"/>
<text x="166.90" y="404.20" class="pt">365,280</text>
<rect x="158.10" y="388.10" width="17.6" height="8.4" rx="4.2" fill="#e8131b"/>
<text x="166.90" y="394.30" class="pt">-528</text>
<rect x="176.35" y="413.00" width="21.6" height="8.4" rx="4.2" fill="#5b9bd5" stroke="#d6e6f5" stroke-width="0.4"/>
<text x="187.15" y="419.20" class="pt">360,408</text>
<rect x="176.90" y="402.90" width="20.5" height="8.4" rx="4.2" fill="#e8131b"/>
<text x="187.15" y="409.10" class="pt">-4,800</text>
<rect x="196.35" y="409.60" width="21.6" height="8.4" rx="4.2" fill="#5b9bd5" stroke="#d6e6f5" stroke-width="0.4"/>
<text x="207.15" y="415.80" class="pt">360,933</text>
<rect x="199.80" y="399.50" width="14.7" height="8.4" rx="4.2" fill="#6eac45"/>
<text x="207.15" y="405.70" class="pt">525</text>
<rect x="216.35" y="401.00" width="21.6" height="8.4" rx="4.2" fill="#5b9bd5" stroke="#d6e6f5" stroke-width="0.4"/>
<text x="227.15" y="407.20" class="pt">362,882</text>
<rect x="216.90" y="391.00" width="20.5" height="8.4" rx="4.2" fill="#6eac45"/>
<text x="227.15" y="397.20" class="pt">2,048</text>
<rect x="236.60" y="398.80" width="21.6" height="8.4" rx="4.2" fill="#5b9bd5" stroke="#d6e6f5" stroke-width="0.4"/>
<text x="247.40" y="405.00" class="pt">364,040</text>
<rect x="237.15" y="388.90" width="20.5" height="8.4" rx="4.2" fill="#6eac45"/>
<text x="247.40" y="395.10" class="pt">1,058</text>
<rect x="256.60" y="390.10" width="21.6" height="8.4" rx="4.2" fill="#5b9bd5" stroke="#d6e6f5" stroke-width="0.4"/>
<text x="267.40" y="396.30" class="pt">367,448</text>
<rect x="257.15" y="379.80" width="20.5" height="8.4" rx="4.2" fill="#6eac45"/>
<text x="267.40" y="386.00" class="pt">3,408</text>
<rect x="276.60" y="397.80" width="21.6" height="8.4" rx="4.2" fill="#5b9bd5" stroke="#d6e6f5" stroke-width="0.4"/>
<text x="287.40" y="404.00" class="pt">364,449</text>
<rect x="277.15" y="387.50" width="20.5" height="8.4" rx="4.2" fill="#e8131b"/>
<text x="287.40" y="393.70" class="pt">-2,999</text>
<rect x="296.85" y="398.20" width="21.6" height="8.4" rx="4.2" fill="#5b9bd5" stroke="#d6e6f5" stroke-width="0.4"/>
<text x="307.65" y="404.40" class="pt">364,457</text>
<rect x="302.85" y="387.80" width="9.6" height="8.4" rx="4.2" fill="#6eac45"/>
<text x="307.65" y="394.00" class="pt">6</text>
<rect x="317.35" y="384.80" width="21.6" height="8.4" rx="4.2" fill="#5b9bd5" stroke="#d6e6f5" stroke-width="0.4"/>
<text x="328.15" y="391.00" class="pt">368,320</text>
<rect x="317.90" y="374.40" width="20.5" height="8.4" rx="4.2" fill="#6eac45"/>
<text x="328.15" y="380.60" class="pt">3,863</text>
<rect x="337.35" y="376.80" width="21.6" height="8.4" rx="4.2" fill="#5b9bd5" stroke="#d6e6f5" stroke-width="0.4"/>
<text x="348.15" y="383.00" class="pt">371,003</text>
<rect x="337.90" y="366.50" width="20.5" height="8.4" rx="4.2" fill="#6eac45"/>
<text x="348.15" y="372.70" class="pt">2,683</text>
<rect x="357.60" y="372.50" width="21.6" height="8.4" rx="4.2" fill="#5b9bd5" stroke="#d6e6f5" stroke-width="0.4"/>
<text x="368.40" y="378.70" class="pt">372,085</text>
<rect x="358.15" y="362.20" width="20.5" height="8.4" rx="4.2" fill="#6eac45"/>
<text x="368.40" y="368.40" class="pt">1,082</text>
<rect x="377.85" y="363.00" width="21.6" height="8.4" rx="4.2" fill="#5b9bd5" stroke="#d6e6f5" stroke-width="0.4"/>
<text x="388.65" y="369.20" class="pt">375,061</text>
<rect x="378.40" y="353.20" width="20.5" height="8.4" rx="4.2" fill="#6eac45"/>
<text x="388.65" y="359.40" class="pt">2,976</text>
<rect x="397.85" y="344.90" width="21.6" height="8.4" rx="4.2" fill="#5b9bd5" stroke="#d6e6f5" stroke-width="0.4"/>
<text x="408.65" y="351.10" class="pt">380,707</text>
<rect x="398.40" y="335.10" width="20.5" height="8.4" rx="4.2" fill="#6eac45"/>
<text x="408.65" y="341.30" class="pt">5,646</text>
<rect x="418.10" y="349.80" width="21.6" height="8.4" rx="4.2" fill="#5b9bd5" stroke="#d6e6f5" stroke-width="0.4"/>
<text x="428.90" y="356.00" class="pt">378,786</text>
<rect x="418.65" y="339.80" width="20.5" height="8.4" rx="4.2" fill="#e8131b"/>
<text x="428.90" y="346.00" class="pt">-1,921</text>
<rect x="438.10" y="341.20" width="21.6" height="8.4" rx="4.2" fill="#5b9bd5" stroke="#d6e6f5" stroke-width="0.4"/>
<text x="448.90" y="347.40" class="pt">381,893</text>
<rect x="438.65" y="331.50" width="20.5" height="8.4" rx="4.2" fill="#6eac45"/>
<text x="448.90" y="337.70" class="pt">3,107</text>
<rect x="458.35" y="317.00" width="21.6" height="8.4" rx="4.2" fill="#5b9bd5" stroke="#d6e6f5" stroke-width="0.4"/>
<text x="469.15" y="323.20" class="pt">388,454</text>
<rect x="458.90" y="307.00" width="20.5" height="8.4" rx="4.2" fill="#6eac45"/>
<text x="469.15" y="313.20" class="pt">6,561</text>
<rect x="478.10" y="301.00" width="21.6" height="8.4" rx="4.2" fill="#5b9bd5" stroke="#d6e6f5" stroke-width="0.4"/>
<text x="488.90" y="307.20" class="pt">394,110</text>
<rect x="478.65" y="291.00" width="20.5" height="8.4" rx="4.2" fill="#6eac45"/>
<text x="488.90" y="297.20" class="pt">5,656</text>
<rect x="498.35" y="291.00" width="21.6" height="8.4" rx="4.2" fill="#5b9bd5" stroke="#d6e6f5" stroke-width="0.4"/>
<text x="509.15" y="297.20" class="pt">397,354</text>
<rect x="498.90" y="280.80" width="20.5" height="8.4" rx="4.2" fill="#6eac45"/>
<text x="509.15" y="287.00" class="pt">3,244</text>
<rect x="518.35" y="302.20" width="21.6" height="8.4" rx="4.2" fill="#5b9bd5" stroke="#d6e6f5" stroke-width="0.4"/>
<text x="529.15" y="308.40" class="pt">393,339</text>
<rect x="518.90" y="292.00" width="20.5" height="8.4" rx="4.2" fill="#e8131b"/>
<text x="529.15" y="298.20" class="pt">-4,015</text>
<rect x="538.60" y="295.30" width="21.6" height="8.4" rx="4.2" fill="#5b9bd5" stroke="#d6e6f5" stroke-width="0.4"/>
<text x="549.40" y="301.50" class="pt">395,682</text>
<rect x="539.15" y="285.00" width="20.5" height="8.4" rx="4.2" fill="#6eac45"/>
<text x="549.40" y="291.20" class="pt">2,343</text>
<rect x="558.60" y="284.40" width="21.6" height="8.4" rx="4.2" fill="#5b9bd5" stroke="#d6e6f5" stroke-width="0.4"/>
<text x="569.40" y="290.60" class="pt">398,497</text>
<rect x="559.15" y="274.40" width="20.5" height="8.4" rx="4.2" fill="#6eac45"/>
<text x="569.40" y="280.60" class="pt">2,815</text>
<rect x="578.60" y="279.80" width="21.6" height="8.4" rx="4.2" fill="#5b9bd5" stroke="#d6e6f5" stroke-width="0.4"/>
<text x="589.40" y="286.00" class="pt">400,048</text>
<rect x="579.15" y="269.20" width="20.5" height="8.4" rx="4.2" fill="#6eac45"/>
<text x="589.40" y="275.40" class="pt">1,551</text>
<rect x="598.85" y="274.60" width="21.6" height="8.4" rx="4.2" fill="#5b9bd5" stroke="#d6e6f5" stroke-width="0.4"/>
<text x="609.65" y="280.80" class="pt">401,534</text>
<rect x="599.40" y="264.40" width="20.5" height="8.4" rx="4.2" fill="#6eac45"/>
<text x="609.65" y="270.60" class="pt">1,485</text>
<rect x="618.85" y="272.40" width="21.6" height="8.4" rx="4.2" fill="#5b9bd5" stroke="#d6e6f5" stroke-width="0.4"/>
<text x="629.65" y="278.60" class="pt">402,221</text>
<rect x="622.30" y="262.00" width="14.7" height="8.4" rx="4.2" fill="#6eac45"/>
<text x="629.65" y="268.20" class="pt">687</text>
<rect x="639.10" y="268.90" width="21.6" height="8.4" rx="4.2" fill="#5b9bd5" stroke="#d6e6f5" stroke-width="0.4"/>
<text x="649.90" y="275.10" class="pt">404,191</text>
<rect x="639.65" y="258.60" width="20.5" height="8.4" rx="4.2" fill="#6eac45"/>
<text x="649.90" y="264.80" class="pt">1,970</text>
<rect x="659.60" y="277.50" width="21.6" height="8.4" rx="4.2" fill="#5b9bd5" stroke="#d6e6f5" stroke-width="0.4"/>
<text x="670.40" y="283.70" class="pt">401,249</text>
<rect x="660.15" y="267.60" width="20.5" height="8.4" rx="4.2" fill="#e8131b"/>
<text x="670.40" y="273.80" class="pt">-2,942</text>
<rect x="679.90" y="262.00" width="21.6" height="8.4" rx="4.2" fill="#5b9bd5" stroke="#d6e6f5" stroke-width="0.4"/>
<text x="690.70" y="268.20" class="pt">405,906</text>
<rect x="680.45" y="251.60" width="20.5" height="8.4" rx="4.2" fill="#6eac45"/>
<text x="690.70" y="257.80" class="pt">4,657</text>
<rect x="698.20" y="241.70" width="21.6" height="8.4" rx="4.2" fill="#5b9bd5" stroke="#d6e6f5" stroke-width="0.4"/>
<text x="709.00" y="247.90" class="pt">410,282</text>
<rect x="698.75" y="231.30" width="20.5" height="8.4" rx="4.2" fill="#6eac45"/>
<text x="709.00" y="237.50" class="pt">4,376</text>
<rect x="718.90" y="215.40" width="21.6" height="8.4" rx="4.2" fill="#5b9bd5" stroke="#d6e6f5" stroke-width="0.4"/>
<text x="729.70" y="221.60" class="pt">418,066</text>
<rect x="719.45" y="205.50" width="20.5" height="8.4" rx="4.2" fill="#6eac45"/>
<text x="729.70" y="211.70" class="pt">7,784</text>
<rect x="737.90" y="210.00" width="21.6" height="8.4" rx="4.2" fill="#5b9bd5" stroke="#d6e6f5" stroke-width="0.4"/>
<text x="748.70" y="216.20" class="pt">420,862</text>
<rect x="738.45" y="199.90" width="20.5" height="8.4" rx="4.2" fill="#6eac45"/>
<text x="748.70" y="206.10" class="pt">2,796</text>
<rect x="755.10" y="229.90" width="21.6" height="8.4" rx="4.2" fill="#5b9bd5" stroke="#d6e6f5" stroke-width="0.4"/>
<text x="765.90" y="236.10" class="pt">414,439</text>
<rect x="755.65" y="220.00" width="20.5" height="8.4" rx="4.2" fill="#e8131b"/>
<text x="765.90" y="226.20" class="pt">-6,423</text>
<rect x="774.00" y="222.70" width="21.6" height="8.4" rx="4.2" fill="#5b9bd5" stroke="#d6e6f5" stroke-width="0.4"/>
<text x="784.80" y="228.90" class="pt">417,035</text>
<rect x="774.55" y="212.80" width="20.5" height="8.4" rx="4.2" fill="#6eac45"/>
<text x="784.80" y="219.00" class="pt">2,596</text>
<rect x="791.00" y="211.00" width="21.6" height="8.4" rx="4.2" fill="#5b9bd5" stroke="#d6e6f5" stroke-width="0.4"/>
<text x="801.80" y="217.20" class="pt">420,905</text>
<rect x="791.55" y="201.00" width="20.5" height="8.4" rx="4.2" fill="#6eac45"/>
<text x="801.80" y="207.20" class="pt">3,870</text>
<rect x="807.80" y="206.80" width="21.6" height="8.4" rx="4.2" fill="#5b9bd5" stroke="#d6e6f5" stroke-width="0.4"/>
<text x="818.60" y="213.00" class="pt">421,686</text>
<rect x="811.25" y="197.90" width="14.7" height="8.4" rx="4.2" fill="#6eac45"/>
<text x="818.60" y="204.10" class="pt">781</text>
<rect x="824.00" y="202.70" width="21.6" height="8.4" rx="4.2" fill="#5b9bd5" stroke="#d6e6f5" stroke-width="0.4"/>
<text x="834.80" y="208.90" class="pt">421,806</text>
<rect x="827.45" y="193.00" width="14.7" height="8.4" rx="4.2" fill="#6eac45"/>
<text x="834.80" y="199.20" class="pt">120</text>
<rect x="838.90" y="199.20" width="21.6" height="8.4" rx="4.2" fill="#5b9bd5" stroke="#d6e6f5" stroke-width="0.4"/>
<text x="849.70" y="205.40" class="pt">422,869</text>
<rect x="839.45" y="189.60" width="20.5" height="8.4" rx="4.2" fill="#6eac45"/>
<text x="849.70" y="195.80" class="pt">1,063</text>
<rect x="852.30" y="199.20" width="21.6" height="8.4" rx="4.2" fill="#5b9bd5" stroke="#d6e6f5" stroke-width="0.4"/>
<text x="863.10" y="205.40" class="pt">424,400</text>
<rect x="855.75" y="188.90" width="14.7" height="8.4" rx="4.2" fill="#6eac45"/>
<text x="863.10" y="195.10" class="pt">728</text>
<rect x="867.30" y="202.20" width="21.6" height="8.4" rx="4.2" fill="#5b9bd5" stroke="#d6e6f5" stroke-width="0.4"/>
<text x="878.10" y="208.40" class="pt">422,660</text>
<rect x="867.85" y="192.40" width="20.5" height="8.4" rx="4.2" fill="#6eac45"/>
<text x="878.10" y="198.60" class="pt">-1,741</text>
<rect x="882.20" y="202.70" width="21.6" height="8.4" rx="4.2" fill="#5b9bd5" stroke="#d6e6f5" stroke-width="0.4"/>
<text x="893.00" y="208.90" class="pt">425,662</text>
<rect x="882.75" y="192.70" width="20.5" height="8.4" rx="4.2" fill="#6eac45"/>
<text x="893.00" y="198.90" class="pt">3,002</text>
<rect x="898.40" y="197.50" width="21.6" height="8.4" rx="4.2" fill="#5b9bd5" stroke="#d6e6f5" stroke-width="0.4"/>
<text x="909.20" y="203.70" class="pt">428,696</text>
<rect x="898.95" y="187.50" width="20.5" height="8.4" rx="4.2" fill="#6eac45"/>
<text x="909.20" y="193.70" class="pt">3,027</text>
<rect x="914.70" y="190.10" width="21.6" height="8.4" rx="4.2" fill="#5b9bd5" stroke="#d6e6f5" stroke-width="0.4"/>
<text x="925.50" y="196.30" class="pt">435,911</text>
<rect x="915.25" y="181.00" width="20.5" height="8.4" rx="4.2" fill="#6eac45"/>
<text x="925.50" y="187.20" class="pt">7,215</text>
<rect x="931.30" y="194.40" width="21.6" height="8.4" rx="4.2" fill="#5b9bd5" stroke="#d6e6f5" stroke-width="0.4"/>
<text x="942.10" y="200.60" class="pt">440,985</text>
<rect x="931.85" y="185.80" width="20.5" height="8.4" rx="4.2" fill="#6eac45"/>
<text x="942.10" y="192.00" class="pt">5,075</text>
  <text transform="translate(109.20,498.96) rotate(-90)" class="xl" textLength="31.46" lengthAdjust="spacingAndGlyphs">mar-20</text>
<text transform="translate(129.20,496.29) rotate(-90)" class="xl" textLength="28.79" lengthAdjust="spacingAndGlyphs">abr-20</text>
<text transform="translate(149.50,500.58) rotate(-90)" class="xl" textLength="33.08" lengthAdjust="spacingAndGlyphs">may-20</text>
<text transform="translate(169.50,495.52) rotate(-90)" class="xl" textLength="28.02" lengthAdjust="spacingAndGlyphs">jun-20</text>
<text transform="translate(189.75,492.27) rotate(-90)" class="xl" textLength="24.77" lengthAdjust="spacingAndGlyphs">jul-20</text>
<text transform="translate(209.75,498.48) rotate(-90)" class="xl" textLength="30.98" lengthAdjust="spacingAndGlyphs">ago-20</text>
<text transform="translate(229.75,497.91) rotate(-90)" class="xl" textLength="30.41" lengthAdjust="spacingAndGlyphs">sep-20</text>
<text transform="translate(250.00,495.24) rotate(-90)" class="xl" textLength="27.74" lengthAdjust="spacingAndGlyphs">oct-20</text>
<text transform="translate(270.00,497.91) rotate(-90)" class="xl" textLength="30.41" lengthAdjust="spacingAndGlyphs">nov-20</text>
<text transform="translate(290.00,494.66) rotate(-90)" class="xl" textLength="27.16" lengthAdjust="spacingAndGlyphs">dic-20</text>
<text transform="translate(310.25,495.49) rotate(-90)" class="xl" textLength="27.99" lengthAdjust="spacingAndGlyphs">ene-21</text>
<text transform="translate(330.75,493.00) rotate(-90)" class="xl" textLength="25.50" lengthAdjust="spacingAndGlyphs">feb-21</text>
<text transform="translate(350.75,495.92) rotate(-90)" class="xl" textLength="28.42" lengthAdjust="spacingAndGlyphs">mar-21</text>
<text transform="translate(371.00,493.51) rotate(-90)" class="xl" textLength="26.01" lengthAdjust="spacingAndGlyphs">abr-21</text>
<text transform="translate(391.25,497.38) rotate(-90)" class="xl" textLength="29.88" lengthAdjust="spacingAndGlyphs">may-21</text>
<text transform="translate(411.25,492.82) rotate(-90)" class="xl" textLength="25.32" lengthAdjust="spacingAndGlyphs">jun-21</text>
<text transform="translate(431.50,489.90) rotate(-90)" class="xl" textLength="22.40" lengthAdjust="spacingAndGlyphs">jul-21</text>
<text transform="translate(451.50,495.49) rotate(-90)" class="xl" textLength="27.99" lengthAdjust="spacingAndGlyphs">ago-21</text>
<text transform="translate(471.75,494.97) rotate(-90)" class="xl" textLength="27.47" lengthAdjust="spacingAndGlyphs">sep-21</text>
<text transform="translate(491.50,492.57) rotate(-90)" class="xl" textLength="25.07" lengthAdjust="spacingAndGlyphs">oct-21</text>
<text transform="translate(511.75,494.97) rotate(-90)" class="xl" textLength="27.47" lengthAdjust="spacingAndGlyphs">nov-21</text>
<text transform="translate(531.75,492.05) rotate(-90)" class="xl" textLength="24.55" lengthAdjust="spacingAndGlyphs">dic-21</text>
<text transform="translate(552.00,498.48) rotate(-90)" class="xl" textLength="30.98" lengthAdjust="spacingAndGlyphs">ene-22</text>
<text transform="translate(572.00,495.71) rotate(-90)" class="xl" textLength="28.21" lengthAdjust="spacingAndGlyphs">feb-22</text>
<text transform="translate(592.00,498.96) rotate(-90)" class="xl" textLength="31.46" lengthAdjust="spacingAndGlyphs">mar-22</text>
<text transform="translate(612.25,496.29) rotate(-90)" class="xl" textLength="28.79" lengthAdjust="spacingAndGlyphs">abr-22</text>
<text transform="translate(632.25,500.58) rotate(-90)" class="xl" textLength="33.08" lengthAdjust="spacingAndGlyphs">may-22</text>
<text transform="translate(652.50,495.52) rotate(-90)" class="xl" textLength="28.02" lengthAdjust="spacingAndGlyphs">jun-22</text>
<text transform="translate(673.00,492.27) rotate(-90)" class="xl" textLength="24.77" lengthAdjust="spacingAndGlyphs">jul-22</text>
<text transform="translate(693.30,498.48) rotate(-90)" class="xl" textLength="30.98" lengthAdjust="spacingAndGlyphs">ago-22</text>
<text transform="translate(711.60,497.91) rotate(-90)" class="xl" textLength="30.41" lengthAdjust="spacingAndGlyphs">sep-22</text>
<text transform="translate(732.30,495.24) rotate(-90)" class="xl" textLength="27.74" lengthAdjust="spacingAndGlyphs">oct-22</text>
<text transform="translate(751.30,497.91) rotate(-90)" class="xl" textLength="30.41" lengthAdjust="spacingAndGlyphs">nov-22</text>
<text transform="translate(768.50,494.66) rotate(-90)" class="xl" textLength="27.16" lengthAdjust="spacingAndGlyphs">dic-22</text>
<text transform="translate(787.40,498.48) rotate(-90)" class="xl" textLength="30.98" lengthAdjust="spacingAndGlyphs">ene-23</text>
<text transform="translate(804.40,495.71) rotate(-90)" class="xl" textLength="28.21" lengthAdjust="spacingAndGlyphs">feb-23</text>
<text transform="translate(821.20,498.96) rotate(-90)" class="xl" textLength="31.46" lengthAdjust="spacingAndGlyphs">mar-23</text>
<text transform="translate(837.40,496.29) rotate(-90)" class="xl" textLength="28.79" lengthAdjust="spacingAndGlyphs">abr-23</text>
<text transform="translate(852.30,500.58) rotate(-90)" class="xl" textLength="33.08" lengthAdjust="spacingAndGlyphs">may-23</text>
<text transform="translate(865.70,495.52) rotate(-90)" class="xl" textLength="28.02" lengthAdjust="spacingAndGlyphs">jun-23</text>
<text transform="translate(880.70,492.27) rotate(-90)" class="xl" textLength="24.77" lengthAdjust="spacingAndGlyphs">jul-23</text>
<text transform="translate(895.60,498.48) rotate(-90)" class="xl" textLength="30.98" lengthAdjust="spacingAndGlyphs">ago-23</text>
<text transform="translate(911.80,497.91) rotate(-90)" class="xl" textLength="30.41" lengthAdjust="spacingAndGlyphs">sep-23</text>
<text transform="translate(928.10,495.24) rotate(-90)" class="xl" textLength="27.74" lengthAdjust="spacingAndGlyphs">oct-23</text>
<text transform="translate(944.70,497.91) rotate(-90)" class="xl" textLength="30.41" lengthAdjust="spacingAndGlyphs">nov-23</text>
<text transform="translate(961.60,494.66) rotate(-90)" class="xl" textLength="27.16" lengthAdjust="spacingAndGlyphs">dic-23</text>
  <g>
    <path d="M953.4,174.2 A27.1,27.1 0 0 1 1007.6,174.2 Z" fill="#e8131b"/>
    <path d="M953.4,174.2 L1007.6,174.2 A27.1,27.1 0 0 1 976,200.9 L962.5,203.6 L961.8,193.6 A27.1,27.1 0 0 1 953.4,174.2 Z" fill="#0e1d5e"/>
    <text x="964" y="168.5" style="font-family:'Liberation Sans',sans-serif;font-weight:bold;font-size:10.8px;fill:#fff;" textLength="34" lengthAdjust="spacingAndGlyphs">-5,045</text>
    <text x="959.5" y="187.3" style="font-family:'Liberation Sans',sans-serif;font-weight:bold;font-size:10.8px;fill:#fff;" textLength="42.5" lengthAdjust="spacingAndGlyphs">435,940</text>
  </g>
</svg>
<svg width="1024" height="580" viewBox="0 0 1024 580">
<text x="59.8" y="163.5" class="hd" fill="#d91c24" stroke="#d91c24" stroke-width="0.35" textLength="189.6" lengthAdjust="spacingAndGlyphs">Caída máxima: 25,708</text>
<text x="80.4" y="179" class="sh" fill="#c42128" stroke="#c42128" stroke-width="0.3" textLength="147.8" lengthAdjust="spacingAndGlyphs">(Marzo 2020 - Julio 2020)</text>
<text x="384.4" y="169.1" class="hd" fill="#76b154" stroke="#76b154" stroke-width="0.35" textLength="266.2" lengthAdjust="spacingAndGlyphs">Recuperación: 75,532 empleos</text>
<text x="424.4" y="184.6" class="sh" fill="#76b154" stroke="#76b154" stroke-width="0.3" textLength="185.2" lengthAdjust="spacingAndGlyphs">(Agosto 2020 - Diciembre 2023)</text>
<text x="551.5" y="78.2" class="hd" fill="#76b154" stroke="#76b154" stroke-width="0.35" textLength="251.8" lengthAdjust="spacingAndGlyphs">Recuperación Actual: 49,824</text>
<text x="590.2" y="93.8" class="sh" fill="#76b154" stroke="#76b154" stroke-width="0.3" textLength="177.8" lengthAdjust="spacingAndGlyphs">(Marzo 2020 - Diciembre 2023)</text>
</svg>
<div style="position:absolute;left:0;top:527px;width:1024px;height:51px;background:#45245e;"></div>
<div style="position:absolute;left:0;top:577.5px;width:1024px;height:3px;background:#07040c;"></div>
<svg width="1024" height="580" viewBox="0 0 1024 580">
<rect x="701.00" y="552.0" width="40.50" height="25.5" fill="#c8479e"/>
<rect x="741.50" y="552.0" width="40.50" height="25.5" fill="#2e57b8"/>
<path d="M727.00,577.5 Q741.50,569.50 756.00,577.5 Z" fill="#3aa3e0"/>
<rect x="701.00" y="527.0" width="28.00" height="25.0" fill="#7a2a8c"/>
<polygon points="723.00,552.0 729.00,546.0 729.00,552.0" fill="#c8479e"/>
<rect x="754.00" y="527.0" width="28.00" height="25.0" fill="#22c3c4"/>
<polygon points="754.00,546.0 760.00,552.0 754.00,552.0" fill="#2e57b8"/>
<path d="M729.00,527.0 H754.00 V557.00 A12.50,12.50 0 0 1 729.00,557.00 Z" fill="#1b2473"/>
<rect x="810.00" y="527.0" width="25.00" height="12" fill="#f4c21b"/>
<path d="M782.00,527.0 H810.00 A27.00,27.00 0 0 1 837.00,553.00 V553.00 H782.00 Z" fill="#77b72a"/>
<path d="M863.00,527.0 H835.00 A27.00,27.00 0 0 0 808.00,553.00 V553.00 H863.00 Z" fill="#f05b50"/>
<rect x="782.00" y="552.0" width="28.00" height="25.5" fill="#22c3c4"/>
<rect x="835.00" y="552.0" width="28.00" height="25.5" fill="#f68a1e"/>
<path d="M810.00,577.5 V546.50 A12.50,12.50 0 0 1 835.00,546.50 V577.5 Z" fill="#0e7866"/>
<rect x="862.50" y="552.0" width="40.50" height="25.5" fill="#c8479e"/>
<rect x="903.00" y="552.0" width="40.50" height="25.5" fill="#2e57b8"/>
<path d="M888.50,577.5 Q903.00,569.50 917.50,577.5 Z" fill="#3aa3e0"/>
<rect x="862.50" y="527.0" width="28.00" height="25.0" fill="#7a2a8c"/>
<polygon points="884.50,552.0 890.50,546.0 890.50,552.0" fill="#c8479e"/>
<rect x="915.50" y="527.0" width="28.00" height="25.0" fill="#22c3c4"/>
<polygon points="915.50,546.0 921.50,552.0 915.50,552.0" fill="#2e57b8"/>
<path d="M890.50,527.0 H915.50 V557.00 A12.50,12.50 0 0 1 890.50,557.00 Z" fill="#1b2473"/>
<rect x="971.50" y="527.0" width="25.00" height="12" fill="#f4c21b"/>
<path d="M943.50,527.0 H971.50 A27.00,27.00 0 0 1 998.50,553.00 V553.00 H943.50 Z" fill="#14a68a"/>
<path d="M1024.50,527.0 H996.50 A27.00,27.00 0 0 0 969.50,553.00 V553.00 H1024.50 Z" fill="#f05b50"/>
<rect x="943.50" y="552.0" width="28.00" height="25.5" fill="#78b82a"/>
<rect x="996.50" y="552.0" width="28.00" height="25.5" fill="#f68a1e"/>
<path d="M971.50,577.5 V546.50 A12.50,12.50 0 0 1 996.50,546.50 V577.5 Z" fill="#0e7866"/>
<polygon points="693.3,552.0 699.5,545.8 705.7,552.0 699.5,558.2" fill="#f6f3f8"/>
<polygon points="775.8,552.0 782.0,545.8 788.2,552.0 782.0,558.2" fill="#f6f3f8"/>
<polygon points="856.0999999999999,552.0 862.3,545.8 868.5,552.0 862.3,558.2" fill="#f6f3f8"/>
<polygon points="937.0,552.0 943.2,545.8 949.4000000000001,552.0 943.2,558.2" fill="#f6f3f8"/>
<polygon points="1017.3,552.0 1023.5,545.8 1029.7,552.0 1023.5,558.2" fill="#f6f3f8"/>
<g transform="translate(75,551.7)">
  <rect x="-11.8" y="-11.8" width="23.6" height="23.6" rx="9" fill="#f6f0f8"/>
  <g fill="none" stroke="#45245e" stroke-width="1.5">
    <path d="M0,-11.8 A11.8,11.8 0 0 1 -11.8,0"/>
    <path d="M11.8,0 A11.8,11.8 0 0 1 0,-11.8"/>
    <path d="M0,11.8 A11.8,11.8 0 0 1 11.8,0"/>
    <path d="M-11.8,0 A11.8,11.8 0 0 1 0,11.8"/>
  </g>
  <g fill="#45245e">
    <ellipse cx="-6" cy="-6" rx="4.4" ry="1.6" transform="rotate(-45 -6 -6)"/>
    <ellipse cx="6" cy="-6" rx="4.4" ry="1.6" transform="rotate(45 6 -6)"/>
    <ellipse cx="-6" cy="6" rx="4.4" ry="1.6" transform="rotate(45 -6 6)"/>
    <ellipse cx="6" cy="6" rx="4.4" ry="1.6" transform="rotate(-45 6 6)"/>
    <polygon points="0,-1.8 1.8,0 0,1.8 -1.8,0"/>
  </g>
</g>
<text x="91.4" y="546" style="font-family:'Liberation Sans',sans-serif;font-size:3.6px;fill:#eee6f2;" textLength="47" lengthAdjust="spacingAndGlyphs">Juntos transformamos</text>
<text x="91.4" y="556" style="font-family:'Liberation Sans',sans-serif;font-weight:bold;font-size:11.6px;fill:#fff;" textLength="47.4" lengthAdjust="spacingAndGlyphs">Yucatán</text>
<text x="97.3" y="561" style="font-family:'Liberation Sans',sans-serif;font-weight:bold;font-size:3px;fill:#eee6f2;" textLength="34.7" lengthAdjust="spacingAndGlyphs">GOBIERNO DEL ESTADO</text>
<rect x="142.4" y="540.4" width="1" height="22.5" fill="#9d8ab0"/>
<text x="147.1" y="550.5" style="font-family:'Liberation Sans',sans-serif;font-weight:bold;font-size:8.3px;fill:#fff;" textLength="31.7" lengthAdjust="spacingAndGlyphs">SEPLAN</text>
<text x="147.1" y="555.2" style="font-family:'Liberation Sans',sans-serif;font-weight:bold;font-size:2.8px;fill:#e6dcec;" textLength="33" lengthAdjust="spacingAndGlyphs">SECRETARÍA TÉCNICA DE</text>
<text x="147.1" y="558.4" style="font-family:'Liberation Sans',sans-serif;font-weight:bold;font-size:2.8px;fill:#e6dcec;" textLength="35" lengthAdjust="spacingAndGlyphs">PLANEACIÓN Y EVALUACIÓN</text>
<text x="207.5" y="554.9" style="font-family:'Liberation Sans',sans-serif;font-weight:bold;font-size:9.6px;fill:#f2eef5;" textLength="221" lengthAdjust="spacingAndGlyphs">Fuente: elaboración propia con datos del IMSS 2020-2023</text>
</svg>
</body></html>
